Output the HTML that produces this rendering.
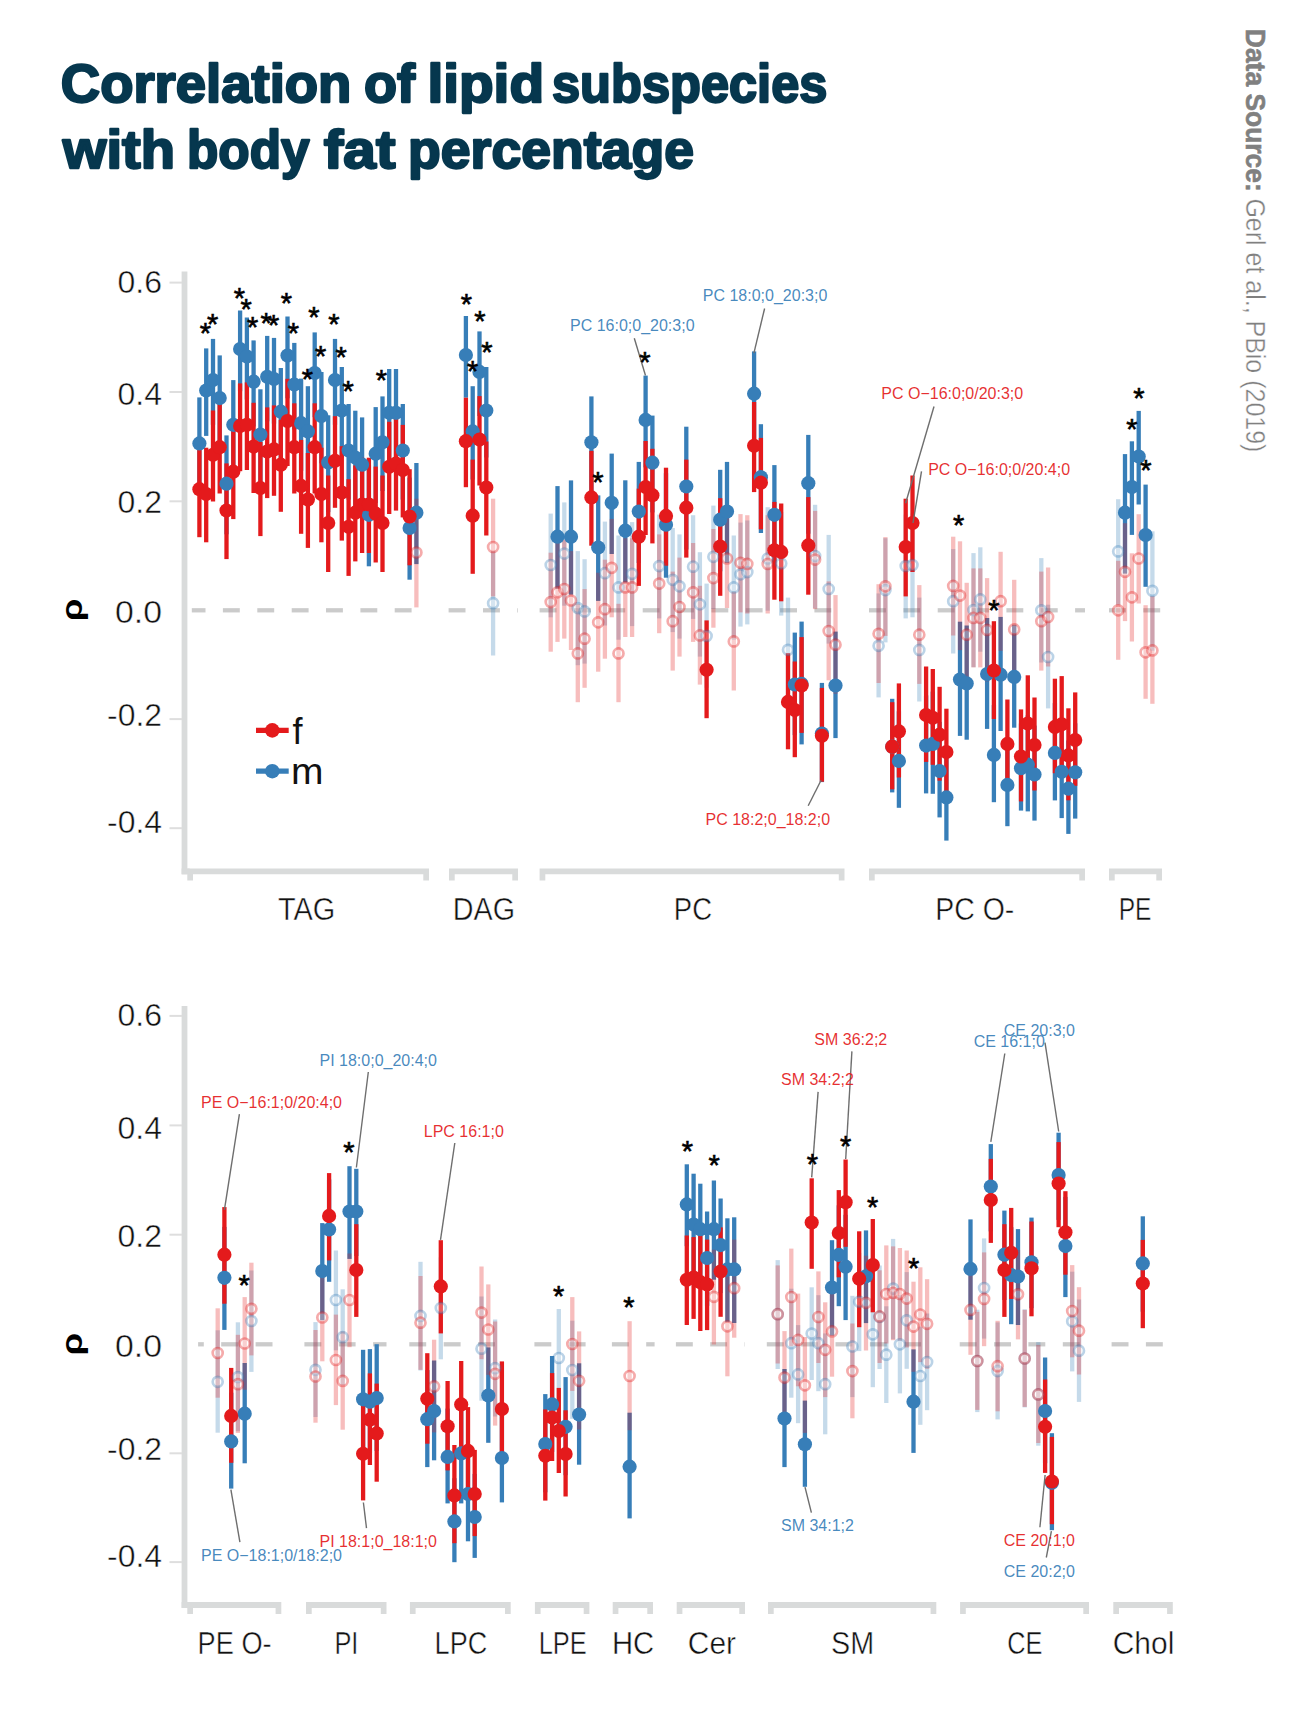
<!DOCTYPE html>
<html><head><meta charset="utf-8"><title>Correlation of lipid subspecies with body fat percentage</title>
<style>
html,body{margin:0;padding:0;background:#fff;}
svg{display:block;}
text{font-family:"Liberation Sans",sans-serif;}
.tk{font-size:31.4px;fill:#111;stroke:#fff;stroke-width:0.45px;}
.gl{font-size:30.5px;fill:#111;stroke:#fff;stroke-width:0.45px;}
.an{font-size:16px;fill-opacity:0.92;}
.st{font-size:29px;fill:#000;text-anchor:middle;stroke:#000;stroke-width:0.6px;}
.title{font-size:54px;font-weight:bold;fill:#06374e;stroke:#06374e;stroke-width:2.3px;stroke-linejoin:round;}
</style></head><body>
<svg width="1290" height="1716" viewBox="0 0 1290 1716">
<rect width="1290" height="1716" fill="#fff"/>

<text x="60.80" y="101.6" class="title" textLength="290.60" lengthAdjust="spacingAndGlyphs">Correlation</text>
<text x="364.07" y="101.6" class="title" textLength="51.00" lengthAdjust="spacingAndGlyphs">of</text>
<text x="427.45" y="101.6" class="title" textLength="116.60" lengthAdjust="spacingAndGlyphs">lipid</text>
<text x="552.01" y="101.6" class="title" textLength="275.39" lengthAdjust="spacingAndGlyphs">subspecies</text>
<text x="62.79" y="167.8" class="title" textLength="112.16" lengthAdjust="spacingAndGlyphs">with</text>
<text x="187.03" y="167.8" class="title" textLength="122.57" lengthAdjust="spacingAndGlyphs">body</text>
<text x="323.83" y="167.8" class="title" textLength="71.59" lengthAdjust="spacingAndGlyphs">fat</text>
<text x="408.00" y="167.8" class="title" textLength="285.99" lengthAdjust="spacingAndGlyphs">percentage</text>
<g transform="translate(1246,0) rotate(90)"><text x="28.8" y="0" font-size="28px" fill="#808080" font-weight="bold" stroke="#808080" stroke-width="0.6" textLength="163" lengthAdjust="spacingAndGlyphs">Data Source:</text><text x="198.4" y="0" font-size="28px" fill="#808080" stroke="#fff" stroke-width="0.4" textLength="254" lengthAdjust="spacingAndGlyphs">Gerl et al., PBio (2019)</text></g>
<text transform="translate(81.5,610) rotate(-90) scale(1.26,1.04)" text-anchor="middle" font-size="29px" font-weight="bold" fill="#000">ρ</text>
<text transform="translate(81.5,1344.3) rotate(-90) scale(1.26,1.04)" text-anchor="middle" font-size="29px" font-weight="bold" fill="#000">ρ</text>
<g stroke="#cbcbcb" stroke-width="4.3">
<line x1="191.8" x2="205.5" y1="610.3" y2="610.3"/>
<line x1="222.9" x2="239.8" y1="610.3" y2="610.3"/>
<line x1="257.3" x2="274.2" y1="610.3" y2="610.3"/>
<line x1="291.7" x2="308.6" y1="610.3" y2="610.3"/>
<line x1="326.0" x2="342.9" y1="610.3" y2="610.3"/>
<line x1="360.4" x2="377.3" y1="610.3" y2="610.3"/>
<line x1="394.7" x2="411.6" y1="610.3" y2="610.3"/>
<line x1="448.6" x2="465.5" y1="610.3" y2="610.3"/>
<line x1="483.0" x2="499.9" y1="610.3" y2="610.3"/>
<line x1="517.3" x2="518.0" y1="610.3" y2="610.3"/>
<line x1="539.6" x2="556.5" y1="610.3" y2="610.3"/>
<line x1="574.0" x2="590.9" y1="610.3" y2="610.3"/>
<line x1="608.3" x2="625.2" y1="610.3" y2="610.3"/>
<line x1="642.7" x2="659.6" y1="610.3" y2="610.3"/>
<line x1="677.0" x2="693.9" y1="610.3" y2="610.3"/>
<line x1="711.4" x2="728.3" y1="610.3" y2="610.3"/>
<line x1="745.7" x2="762.6" y1="610.3" y2="610.3"/>
<line x1="780.1" x2="797.0" y1="610.3" y2="610.3"/>
<line x1="814.4" x2="831.3" y1="610.3" y2="610.3"/>
<line x1="869.0" x2="885.9" y1="610.3" y2="610.3"/>
<line x1="903.4" x2="920.2" y1="610.3" y2="610.3"/>
<line x1="937.7" x2="954.6" y1="610.3" y2="610.3"/>
<line x1="972.1" x2="989.0" y1="610.3" y2="610.3"/>
<line x1="1006.4" x2="1023.3" y1="610.3" y2="610.3"/>
<line x1="1040.8" x2="1057.7" y1="610.3" y2="610.3"/>
<line x1="1075.1" x2="1085.0" y1="610.3" y2="610.3"/>
<line x1="1109.0" x2="1125.9" y1="610.3" y2="610.3"/>
<line x1="1143.3" x2="1160.2" y1="610.3" y2="610.3"/>
</g>
<g stroke="#cbcbcb" stroke-width="4.3">
<line x1="198.1" x2="203.8" y1="1344.3" y2="1344.3"/>
<line x1="221.2" x2="238.2" y1="1344.3" y2="1344.3"/>
<line x1="255.6" x2="272.5" y1="1344.3" y2="1344.3"/>
<line x1="304.4" x2="321.3" y1="1344.3" y2="1344.3"/>
<line x1="338.8" x2="355.6" y1="1344.3" y2="1344.3"/>
<line x1="373.1" x2="386.5" y1="1344.3" y2="1344.3"/>
<line x1="409.3" x2="426.2" y1="1344.3" y2="1344.3"/>
<line x1="443.7" x2="460.6" y1="1344.3" y2="1344.3"/>
<line x1="478.0" x2="494.9" y1="1344.3" y2="1344.3"/>
<line x1="534.4" x2="551.3" y1="1344.3" y2="1344.3"/>
<line x1="568.8" x2="585.6" y1="1344.3" y2="1344.3"/>
<line x1="611.9" x2="628.8" y1="1344.3" y2="1344.3"/>
<line x1="646.2" x2="654.6" y1="1344.3" y2="1344.3"/>
<line x1="675.9" x2="692.8" y1="1344.3" y2="1344.3"/>
<line x1="710.2" x2="727.1" y1="1344.3" y2="1344.3"/>
<line x1="744.6" x2="745.0" y1="1344.3" y2="1344.3"/>
<line x1="766.8" x2="783.7" y1="1344.3" y2="1344.3"/>
<line x1="801.1" x2="818.0" y1="1344.3" y2="1344.3"/>
<line x1="835.5" x2="852.4" y1="1344.3" y2="1344.3"/>
<line x1="869.9" x2="886.8" y1="1344.3" y2="1344.3"/>
<line x1="904.2" x2="921.1" y1="1344.3" y2="1344.3"/>
<line x1="959.7" x2="976.6" y1="1344.3" y2="1344.3"/>
<line x1="994.1" x2="1011.0" y1="1344.3" y2="1344.3"/>
<line x1="1028.4" x2="1045.3" y1="1344.3" y2="1344.3"/>
<line x1="1062.8" x2="1079.7" y1="1344.3" y2="1344.3"/>
<line x1="1111.6" x2="1128.5" y1="1344.3" y2="1344.3"/>
<line x1="1145.9" x2="1162.8" y1="1344.3" y2="1344.3"/>
</g>
<rect x="181.6" y="271.5" width="5.8" height="602.8" fill="#d9dbdb"/>
<rect x="169.5" y="281.6" width="12.5" height="2" fill="#dedede"/>
<text x="117.5" y="292.5" class="tk" textLength="44.5" lengthAdjust="spacingAndGlyphs">0.6</text>
<rect x="169.5" y="391.0" width="12.5" height="2" fill="#dedede"/>
<text x="117.5" y="404.5" class="tk" textLength="44.5" lengthAdjust="spacingAndGlyphs">0.4</text>
<rect x="169.5" y="500.3" width="12.5" height="2" fill="#dedede"/>
<text x="117.5" y="513.1" class="tk" textLength="44.5" lengthAdjust="spacingAndGlyphs">0.2</text>
<text x="115.0" y="622.7" class="tk" textLength="47.0" lengthAdjust="spacingAndGlyphs">0.0</text>
<rect x="169.5" y="718.1" width="12.5" height="2" fill="#dedede"/>
<text x="107.0" y="725.6" class="tk" textLength="55.0" lengthAdjust="spacingAndGlyphs">-0.2</text>
<rect x="169.5" y="827.2" width="12.5" height="2" fill="#dedede"/>
<text x="107.0" y="832.9" class="tk" textLength="55.0" lengthAdjust="spacingAndGlyphs">-0.4</text>
<path d="M187.3 880.5 V868.5 H429 V880.5 H423.3 V874.3 H193.0 V880.5 Z" fill="#d9dbdb"/>
<text x="278.0" y="919.6" class="gl" textLength="57.3" lengthAdjust="spacingAndGlyphs">TAG</text>
<path d="M449 880.5 V868.5 H518 V880.5 H512.3 V874.3 H454.7 V880.5 Z" fill="#d9dbdb"/>
<text x="452.8" y="919.6" class="gl" textLength="62.2" lengthAdjust="spacingAndGlyphs">DAG</text>
<path d="M539.6 880.5 V868.5 H844.5 V880.5 H838.8 V874.3 H545.3000000000001 V880.5 Z" fill="#d9dbdb"/>
<text x="673.8" y="919.6" class="gl" textLength="38.2" lengthAdjust="spacingAndGlyphs">PC</text>
<path d="M869 880.5 V868.5 H1085 V880.5 H1079.3 V874.3 H874.7 V880.5 Z" fill="#d9dbdb"/>
<text x="935.3" y="919.6" class="gl" textLength="79.0" lengthAdjust="spacingAndGlyphs">PC O-</text>
<path d="M1109 880.5 V868.5 H1162 V880.5 H1156.3 V874.3 H1114.7 V880.5 Z" fill="#d9dbdb"/>
<text x="1118.7" y="919.6" class="gl" textLength="32.8" lengthAdjust="spacingAndGlyphs">PE</text>
<rect x="181.6" y="1006" width="5.8" height="601.9" fill="#d9dbdb"/>
<rect x="169.5" y="1014.9" width="12.5" height="2" fill="#dedede"/>
<text x="117.5" y="1026.2" class="tk" textLength="44.5" lengthAdjust="spacingAndGlyphs">0.6</text>
<rect x="169.5" y="1124.4" width="12.5" height="2" fill="#dedede"/>
<text x="117.5" y="1138.5" class="tk" textLength="44.5" lengthAdjust="spacingAndGlyphs">0.4</text>
<rect x="169.5" y="1233.7" width="12.5" height="2" fill="#dedede"/>
<text x="117.5" y="1247.3" class="tk" textLength="44.5" lengthAdjust="spacingAndGlyphs">0.2</text>
<text x="115.0" y="1356.8" class="tk" textLength="47.0" lengthAdjust="spacingAndGlyphs">0.0</text>
<rect x="169.5" y="1452.3" width="12.5" height="2" fill="#dedede"/>
<text x="107.0" y="1459.5" class="tk" textLength="55.0" lengthAdjust="spacingAndGlyphs">-0.2</text>
<rect x="169.5" y="1561.1" width="12.5" height="2" fill="#dedede"/>
<text x="107.0" y="1566.8" class="tk" textLength="55.0" lengthAdjust="spacingAndGlyphs">-0.4</text>
<path d="M187.3 1614.1 V1602.1 H281.3 V1614.1 H275.6 V1607.8999999999999 H193.0 V1614.1 Z" fill="#d9dbdb"/>
<text x="197.6" y="1654" class="gl" textLength="74.0" lengthAdjust="spacingAndGlyphs">PE O-</text>
<path d="M306 1614.1 V1602.1 H386.5 V1614.1 H380.8 V1607.8999999999999 H311.7 V1614.1 Z" fill="#d9dbdb"/>
<text x="334.4" y="1654" class="gl" textLength="24.0" lengthAdjust="spacingAndGlyphs">PI</text>
<path d="M409.9 1614.1 V1602.1 H510.7 V1614.1 H505.0 V1607.8999999999999 H415.59999999999997 V1614.1 Z" fill="#d9dbdb"/>
<text x="434.6" y="1654" class="gl" textLength="52.6" lengthAdjust="spacingAndGlyphs">LPC</text>
<path d="M534.9 1614.1 V1602.1 H589.4 V1614.1 H583.6999999999999 V1607.8999999999999 H540.6 V1614.1 Z" fill="#d9dbdb"/>
<text x="538.7" y="1654" class="gl" textLength="48.1" lengthAdjust="spacingAndGlyphs">LPE</text>
<path d="M612.7 1614.1 V1602.1 H653 V1614.1 H647.3 V1607.8999999999999 H618.4000000000001 V1614.1 Z" fill="#d9dbdb"/>
<text x="612.0" y="1654" class="gl" textLength="42.2" lengthAdjust="spacingAndGlyphs">HC</text>
<path d="M676.7 1614.1 V1602.1 H745 V1614.1 H739.3 V1607.8999999999999 H682.4000000000001 V1614.1 Z" fill="#d9dbdb"/>
<text x="687.8" y="1654" class="gl" textLength="48.2" lengthAdjust="spacingAndGlyphs">Cer</text>
<path d="M768 1614.1 V1602.1 H936.3 V1614.1 H930.5999999999999 V1607.8999999999999 H773.7 V1614.1 Z" fill="#d9dbdb"/>
<text x="831.0" y="1654" class="gl" textLength="43.1" lengthAdjust="spacingAndGlyphs">SM</text>
<path d="M960.1 1614.1 V1602.1 H1089 V1614.1 H1083.3 V1607.8999999999999 H965.8000000000001 V1614.1 Z" fill="#d9dbdb"/>
<text x="1007.2" y="1654" class="gl" textLength="35.2" lengthAdjust="spacingAndGlyphs">CE</text>
<path d="M1113.3 1614.1 V1602.1 H1172.8 V1614.1 H1167.1 V1607.8999999999999 H1119.0 V1614.1 Z" fill="#d9dbdb"/>
<text x="1112.7" y="1654" class="gl" textLength="61.6" lengthAdjust="spacingAndGlyphs">Chol</text>
<rect x="181.6" y="868.5" width="8" height="5.8" fill="#d9dbdb"/>
<rect x="181.6" y="1602.1" width="8" height="5.8" fill="#d9dbdb"/>
<g stroke-width="4.3" fill="none">
<line x1="199.4" x2="199.4" y1="397.4" y2="492.1" stroke="#377eb8"/>
<line x1="206.2" x2="206.2" y1="348.4" y2="435.9" stroke="#377eb8"/>
<line x1="213.0" x2="213.0" y1="338.9" y2="424.8" stroke="#377eb8"/>
<line x1="219.7" x2="219.7" y1="355.4" y2="444.1" stroke="#377eb8"/>
<line x1="226.5" x2="226.5" y1="435.4" y2="534.3" stroke="#377eb8"/>
<line x1="233.3" x2="233.3" y1="380.1" y2="472.6" stroke="#377eb8"/>
<line x1="240.1" x2="240.1" y1="310.5" y2="391.2" stroke="#377eb8"/>
<line x1="246.9" x2="246.9" y1="317.5" y2="399.5" stroke="#377eb8"/>
<line x1="253.6" x2="253.6" y1="340.4" y2="426.6" stroke="#377eb8"/>
<line x1="260.4" x2="260.4" y1="389.3" y2="482.9" stroke="#377eb8"/>
<line x1="267.2" x2="267.2" y1="335.9" y2="421.3" stroke="#377eb8"/>
<line x1="274.0" x2="274.0" y1="337.9" y2="423.6" stroke="#377eb8"/>
<line x1="280.8" x2="280.8" y1="368.0" y2="458.7" stroke="#377eb8"/>
<line x1="287.5" x2="287.5" y1="316.5" y2="398.3" stroke="#377eb8"/>
<line x1="294.3" x2="294.3" y1="342.9" y2="429.5" stroke="#377eb8"/>
<line x1="301.1" x2="301.1" y1="378.6" y2="470.8" stroke="#377eb8"/>
<line x1="307.9" x2="307.9" y1="386.2" y2="479.5" stroke="#377eb8"/>
<line x1="314.7" x2="314.7" y1="332.4" y2="417.2" stroke="#377eb8"/>
<line x1="321.4" x2="321.4" y1="372.0" y2="463.3" stroke="#377eb8"/>
<line x1="328.2" x2="328.2" y1="415.3" y2="512.1" stroke="#377eb8"/>
<line x1="335.0" x2="335.0" y1="338.9" y2="424.8" stroke="#377eb8"/>
<line x1="341.8" x2="341.8" y1="367.0" y2="457.5" stroke="#377eb8"/>
<line x1="348.6" x2="348.6" y1="404.0" y2="499.6" stroke="#377eb8"/>
<line x1="355.3" x2="355.3" y1="410.7" y2="507.0" stroke="#377eb8"/>
<line x1="362.1" x2="362.1" y1="417.4" y2="514.4" stroke="#377eb8"/>
<line x1="368.9" x2="368.9" y1="465.1" y2="566.3" stroke="#377eb8"/>
<line x1="375.7" x2="375.7" y1="407.1" y2="503.0" stroke="#377eb8"/>
<line x1="382.5" x2="382.5" y1="396.4" y2="491.0" stroke="#377eb8"/>
<line x1="389.2" x2="389.2" y1="369.0" y2="459.8" stroke="#377eb8"/>
<line x1="396.0" x2="396.0" y1="369.0" y2="459.8" stroke="#377eb8"/>
<line x1="402.8" x2="402.8" y1="404.0" y2="499.6" stroke="#377eb8"/>
<line x1="409.6" x2="409.6" y1="477.6" y2="579.7" stroke="#377eb8"/>
<line x1="416.4" x2="416.4" y1="463.0" y2="564.1" stroke="#377eb8"/>
<line x1="465.9" x2="465.9" y1="316.0" y2="397.7" stroke="#377eb8"/>
<line x1="472.7" x2="472.7" y1="386.2" y2="479.5" stroke="#377eb8"/>
<line x1="479.5" x2="479.5" y1="331.4" y2="416.0" stroke="#377eb8"/>
<line x1="486.3" x2="486.3" y1="367.0" y2="457.5" stroke="#377eb8"/>
<line x1="493.1" x2="493.1" y1="551.1" y2="655.5" stroke="#377eb8" opacity="0.29"/>
<line x1="550.7" x2="550.7" y1="513.6" y2="617.3" stroke="#377eb8" opacity="0.29"/>
<line x1="557.5" x2="557.5" y1="486.1" y2="588.6" stroke="#377eb8"/>
<line x1="564.3" x2="564.3" y1="502.4" y2="605.7" stroke="#377eb8" opacity="0.29"/>
<line x1="571.0" x2="571.0" y1="480.4" y2="594.6" stroke="#377eb8"/>
<line x1="577.8" x2="577.8" y1="551.1" y2="665.2" stroke="#377eb8" opacity="0.29"/>
<line x1="584.6" x2="584.6" y1="559.2" y2="663.6" stroke="#377eb8" opacity="0.29"/>
<line x1="591.4" x2="591.4" y1="396.4" y2="491.0" stroke="#377eb8"/>
<line x1="598.2" x2="598.2" y1="495.4" y2="600.9" stroke="#377eb8"/>
<line x1="604.9" x2="604.9" y1="521.6" y2="625.5" stroke="#377eb8" opacity="0.29"/>
<line x1="611.7" x2="611.7" y1="453.6" y2="554.0" stroke="#377eb8"/>
<line x1="618.5" x2="618.5" y1="535.5" y2="639.7" stroke="#377eb8" opacity="0.29"/>
<line x1="625.3" x2="625.3" y1="480.3" y2="582.5" stroke="#377eb8"/>
<line x1="632.1" x2="632.1" y1="522.1" y2="626.1" stroke="#377eb8" opacity="0.29"/>
<line x1="638.8" x2="638.8" y1="461.9" y2="563.0" stroke="#377eb8"/>
<line x1="645.6" x2="645.6" y1="375.6" y2="467.4" stroke="#377eb8"/>
<line x1="652.4" x2="652.4" y1="415.6" y2="512.4" stroke="#377eb8"/>
<line x1="659.2" x2="659.2" y1="514.6" y2="618.4" stroke="#377eb8" opacity="0.29"/>
<line x1="666.0" x2="666.0" y1="473.2" y2="577.7" stroke="#377eb8"/>
<line x1="672.7" x2="672.7" y1="528.0" y2="632.1" stroke="#377eb8" opacity="0.29"/>
<line x1="679.5" x2="679.5" y1="534.4" y2="638.6" stroke="#377eb8" opacity="0.29"/>
<line x1="686.3" x2="686.3" y1="426.7" y2="549.5" stroke="#377eb8"/>
<line x1="693.1" x2="693.1" y1="515.2" y2="618.9" stroke="#377eb8" opacity="0.29"/>
<line x1="699.9" x2="699.9" y1="552.2" y2="656.6" stroke="#377eb8" opacity="0.29"/>
<line x1="706.6" x2="706.6" y1="583.6" y2="687.8" stroke="#377eb8" opacity="0.29"/>
<line x1="713.4" x2="713.4" y1="505.6" y2="609.0" stroke="#377eb8" opacity="0.29"/>
<line x1="720.2" x2="720.2" y1="469.8" y2="571.3" stroke="#377eb8"/>
<line x1="727.0" x2="727.0" y1="461.9" y2="563.0" stroke="#377eb8"/>
<line x1="733.8" x2="733.8" y1="535.5" y2="639.7" stroke="#377eb8" opacity="0.29"/>
<line x1="740.5" x2="740.5" y1="522.6" y2="626.6" stroke="#377eb8" opacity="0.29"/>
<line x1="747.3" x2="747.3" y1="520.5" y2="624.4" stroke="#377eb8" opacity="0.29"/>
<line x1="754.1" x2="754.1" y1="351.4" y2="439.5" stroke="#377eb8"/>
<line x1="760.9" x2="760.9" y1="424.2" y2="533.0" stroke="#377eb8"/>
<line x1="767.7" x2="767.7" y1="507.2" y2="610.7" stroke="#377eb8" opacity="0.29"/>
<line x1="774.4" x2="774.4" y1="465.1" y2="566.3" stroke="#377eb8"/>
<line x1="781.2" x2="781.2" y1="512.0" y2="615.6" stroke="#377eb8" opacity="0.29"/>
<line x1="788.0" x2="788.0" y1="597.6" y2="701.4" stroke="#377eb8" opacity="0.29"/>
<line x1="794.8" x2="794.8" y1="632.6" y2="735.1" stroke="#377eb8"/>
<line x1="801.6" x2="801.6" y1="621.6" y2="744.4" stroke="#377eb8"/>
<line x1="808.3" x2="808.3" y1="434.9" y2="533.7" stroke="#377eb8"/>
<line x1="815.1" x2="815.1" y1="504.8" y2="608.2" stroke="#377eb8" opacity="0.29"/>
<line x1="821.9" x2="821.9" y1="682.9" y2="782.1" stroke="#377eb8"/>
<line x1="828.7" x2="828.7" y1="534.9" y2="643.6" stroke="#377eb8" opacity="0.29"/>
<line x1="835.5" x2="835.5" y1="631.6" y2="738.1" stroke="#377eb8"/>
<line x1="878.6" x2="878.6" y1="593.4" y2="697.4" stroke="#377eb8" opacity="0.29"/>
<line x1="885.4" x2="885.4" y1="538.2" y2="642.4" stroke="#377eb8" opacity="0.29"/>
<line x1="892.2" x2="892.2" y1="698.8" y2="792.4" stroke="#377eb8"/>
<line x1="898.9" x2="898.9" y1="711.3" y2="807.8" stroke="#377eb8"/>
<line x1="905.7" x2="905.7" y1="514.6" y2="618.4" stroke="#377eb8" opacity="0.29"/>
<line x1="912.5" x2="912.5" y1="513.6" y2="617.3" stroke="#377eb8" opacity="0.29"/>
<line x1="919.3" x2="919.3" y1="597.6" y2="701.5" stroke="#377eb8" opacity="0.29"/>
<line x1="926.1" x2="926.1" y1="695.4" y2="793.4" stroke="#377eb8"/>
<line x1="932.8" x2="932.8" y1="691.6" y2="793.8" stroke="#377eb8"/>
<line x1="939.6" x2="939.6" y1="721.9" y2="817.4" stroke="#377eb8"/>
<line x1="946.4" x2="946.4" y1="751.3" y2="840.6" stroke="#377eb8"/>
<line x1="953.2" x2="953.2" y1="549.1" y2="653.5" stroke="#377eb8" opacity="0.29"/>
<line x1="960.0" x2="960.0" y1="621.7" y2="735.9" stroke="#377eb8"/>
<line x1="966.7" x2="966.7" y1="625.5" y2="739.7" stroke="#377eb8"/>
<line x1="973.5" x2="973.5" y1="553.1" y2="667.2" stroke="#377eb8" opacity="0.29"/>
<line x1="980.3" x2="980.3" y1="547.3" y2="651.7" stroke="#377eb8" opacity="0.29"/>
<line x1="987.1" x2="987.1" y1="618.0" y2="728.9" stroke="#377eb8"/>
<line x1="993.9" x2="993.9" y1="705.1" y2="802.2" stroke="#377eb8"/>
<line x1="1000.6" x2="1000.6" y1="616.9" y2="731.0" stroke="#377eb8"/>
<line x1="1007.4" x2="1007.4" y1="741.2" y2="826.2" stroke="#377eb8"/>
<line x1="1014.2" x2="1014.2" y1="624.8" y2="727.7" stroke="#377eb8"/>
<line x1="1021.0" x2="1021.0" y1="723.5" y2="810.6" stroke="#377eb8"/>
<line x1="1027.8" x2="1027.8" y1="715.3" y2="811.4" stroke="#377eb8"/>
<line x1="1034.5" x2="1034.5" y1="725.6" y2="820.6" stroke="#377eb8"/>
<line x1="1041.3" x2="1041.3" y1="558.1" y2="662.5" stroke="#377eb8" opacity="0.29"/>
<line x1="1048.1" x2="1048.1" y1="604.7" y2="708.4" stroke="#377eb8" opacity="0.29"/>
<line x1="1054.9" x2="1054.9" y1="703.1" y2="800.4" stroke="#377eb8"/>
<line x1="1061.7" x2="1061.7" y1="722.7" y2="818.1" stroke="#377eb8"/>
<line x1="1068.4" x2="1068.4" y1="740.5" y2="833.9" stroke="#377eb8"/>
<line x1="1075.2" x2="1075.2" y1="723.3" y2="818.6" stroke="#377eb8"/>
<line x1="1118.2" x2="1118.2" y1="499.2" y2="604.7" stroke="#377eb8" opacity="0.29"/>
<line x1="1125.0" x2="1125.0" y1="454.1" y2="573.6" stroke="#377eb8"/>
<line x1="1131.9" x2="1131.9" y1="441.3" y2="534.9" stroke="#377eb8"/>
<line x1="1138.7" x2="1138.7" y1="410.9" y2="504.5" stroke="#377eb8"/>
<line x1="1145.6" x2="1145.6" y1="484.6" y2="586.8" stroke="#377eb8"/>
<line x1="1152.4" x2="1152.4" y1="531.3" y2="650.8" stroke="#377eb8" opacity="0.29"/>
<line x1="199.4" x2="199.4" y1="443.1" y2="537.2" stroke="#e41a1c"/>
<line x1="206.2" x2="206.2" y1="447.7" y2="542.3" stroke="#e41a1c"/>
<line x1="213.0" x2="213.0" y1="410.5" y2="501.5" stroke="#e41a1c"/>
<line x1="219.7" x2="219.7" y1="403.3" y2="493.5" stroke="#e41a1c"/>
<line x1="226.5" x2="226.5" y1="463.4" y2="559.1" stroke="#e41a1c"/>
<line x1="233.3" x2="233.3" y1="426.5" y2="519.1" stroke="#e41a1c"/>
<line x1="240.1" x2="240.1" y1="383.4" y2="471.2" stroke="#e41a1c"/>
<line x1="246.9" x2="246.9" y1="382.4" y2="470.0" stroke="#e41a1c"/>
<line x1="253.6" x2="253.6" y1="402.8" y2="493.0" stroke="#e41a1c"/>
<line x1="260.4" x2="260.4" y1="442.0" y2="536.1" stroke="#e41a1c"/>
<line x1="267.2" x2="267.2" y1="407.4" y2="498.1" stroke="#e41a1c"/>
<line x1="274.0" x2="274.0" y1="405.4" y2="495.8" stroke="#e41a1c"/>
<line x1="280.8" x2="280.8" y1="419.8" y2="511.8" stroke="#e41a1c"/>
<line x1="287.5" x2="287.5" y1="378.8" y2="466.0" stroke="#e41a1c"/>
<line x1="294.3" x2="294.3" y1="403.3" y2="493.5" stroke="#e41a1c"/>
<line x1="301.1" x2="301.1" y1="439.9" y2="533.8" stroke="#e41a1c"/>
<line x1="307.9" x2="307.9" y1="453.0" y2="547.9" stroke="#e41a1c"/>
<line x1="314.7" x2="314.7" y1="403.3" y2="493.5" stroke="#e41a1c"/>
<line x1="321.4" x2="321.4" y1="447.7" y2="542.3" stroke="#e41a1c"/>
<line x1="328.2" x2="328.2" y1="475.5" y2="572.0" stroke="#e41a1c"/>
<line x1="335.0" x2="335.0" y1="416.2" y2="507.8" stroke="#e41a1c"/>
<line x1="341.8" x2="341.8" y1="446.2" y2="540.6" stroke="#e41a1c"/>
<line x1="348.6" x2="348.6" y1="479.2" y2="575.9" stroke="#e41a1c"/>
<line x1="355.3" x2="355.3" y1="465.5" y2="561.4" stroke="#e41a1c"/>
<line x1="362.1" x2="362.1" y1="457.7" y2="553.0" stroke="#e41a1c"/>
<line x1="368.9" x2="368.9" y1="457.7" y2="553.0" stroke="#e41a1c"/>
<line x1="375.7" x2="375.7" y1="466.6" y2="562.5" stroke="#e41a1c"/>
<line x1="382.5" x2="382.5" y1="475.5" y2="572.0" stroke="#e41a1c"/>
<line x1="389.2" x2="389.2" y1="421.8" y2="514.0" stroke="#e41a1c"/>
<line x1="396.0" x2="396.0" y1="418.7" y2="510.6" stroke="#e41a1c"/>
<line x1="402.8" x2="402.8" y1="424.9" y2="517.4" stroke="#e41a1c"/>
<line x1="409.6" x2="409.6" y1="469.2" y2="565.3" stroke="#e41a1c"/>
<line x1="416.4" x2="416.4" y1="498.7" y2="607.4" stroke="#e41a1c" opacity="0.29"/>
<line x1="465.9" x2="465.9" y1="397.7" y2="487.2" stroke="#e41a1c"/>
<line x1="472.7" x2="472.7" y1="459.6" y2="573.8" stroke="#e41a1c"/>
<line x1="479.5" x2="479.5" y1="396.1" y2="485.5" stroke="#e41a1c"/>
<line x1="486.3" x2="486.3" y1="441.5" y2="535.5" stroke="#e41a1c"/>
<line x1="493.1" x2="493.1" y1="498.7" y2="596.4" stroke="#e41a1c" opacity="0.29"/>
<line x1="550.7" x2="550.7" y1="552.7" y2="651.7" stroke="#e41a1c" opacity="0.29"/>
<line x1="557.5" x2="557.5" y1="543.0" y2="641.9" stroke="#e41a1c" opacity="0.29"/>
<line x1="564.3" x2="564.3" y1="539.8" y2="638.6" stroke="#e41a1c" opacity="0.29"/>
<line x1="571.0" x2="571.0" y1="551.1" y2="650.0" stroke="#e41a1c" opacity="0.29"/>
<line x1="577.8" x2="577.8" y1="603.8" y2="702.2" stroke="#e41a1c" opacity="0.29"/>
<line x1="584.6" x2="584.6" y1="589.1" y2="687.8" stroke="#e41a1c" opacity="0.29"/>
<line x1="591.4" x2="591.4" y1="450.9" y2="545.7" stroke="#e41a1c"/>
<line x1="598.2" x2="598.2" y1="572.7" y2="671.7" stroke="#e41a1c" opacity="0.29"/>
<line x1="604.9" x2="604.9" y1="559.7" y2="658.7" stroke="#e41a1c" opacity="0.29"/>
<line x1="611.7" x2="611.7" y1="518.9" y2="617.3" stroke="#e41a1c" opacity="0.29"/>
<line x1="618.5" x2="618.5" y1="603.8" y2="702.2" stroke="#e41a1c" opacity="0.29"/>
<line x1="625.3" x2="625.3" y1="538.2" y2="637.0" stroke="#e41a1c" opacity="0.29"/>
<line x1="632.1" x2="632.1" y1="538.2" y2="637.0" stroke="#e41a1c" opacity="0.29"/>
<line x1="638.8" x2="638.8" y1="488.6" y2="585.9" stroke="#e41a1c"/>
<line x1="645.6" x2="645.6" y1="441.0" y2="535.0" stroke="#e41a1c"/>
<line x1="652.4" x2="652.4" y1="448.8" y2="543.4" stroke="#e41a1c"/>
<line x1="659.2" x2="659.2" y1="534.4" y2="633.2" stroke="#e41a1c" opacity="0.29"/>
<line x1="666.0" x2="666.0" y1="467.7" y2="565.7" stroke="#e41a1c"/>
<line x1="672.7" x2="672.7" y1="571.6" y2="670.6" stroke="#e41a1c" opacity="0.29"/>
<line x1="679.5" x2="679.5" y1="557.6" y2="656.6" stroke="#e41a1c" opacity="0.29"/>
<line x1="686.3" x2="686.3" y1="459.6" y2="557.6" stroke="#e41a1c"/>
<line x1="693.1" x2="693.1" y1="543.0" y2="641.9" stroke="#e41a1c" opacity="0.29"/>
<line x1="699.9" x2="699.9" y1="585.8" y2="684.6" stroke="#e41a1c" opacity="0.29"/>
<line x1="706.6" x2="706.6" y1="620.4" y2="718.2" stroke="#e41a1c"/>
<line x1="713.4" x2="713.4" y1="529.0" y2="627.7" stroke="#e41a1c" opacity="0.29"/>
<line x1="720.2" x2="720.2" y1="498.2" y2="595.8" stroke="#e41a1c"/>
<line x1="727.0" x2="727.0" y1="509.8" y2="608.0" stroke="#e41a1c" opacity="0.29"/>
<line x1="733.8" x2="733.8" y1="591.8" y2="690.5" stroke="#e41a1c" opacity="0.29"/>
<line x1="740.5" x2="740.5" y1="514.1" y2="612.4" stroke="#e41a1c" opacity="0.29"/>
<line x1="747.3" x2="747.3" y1="515.2" y2="613.5" stroke="#e41a1c" opacity="0.29"/>
<line x1="754.1" x2="754.1" y1="402.0" y2="492.1" stroke="#e41a1c"/>
<line x1="760.9" x2="760.9" y1="437.9" y2="529.3" stroke="#e41a1c"/>
<line x1="767.7" x2="767.7" y1="515.2" y2="613.5" stroke="#e41a1c" opacity="0.29"/>
<line x1="774.4" x2="774.4" y1="501.9" y2="599.7" stroke="#e41a1c"/>
<line x1="781.2" x2="781.2" y1="503.5" y2="601.3" stroke="#e41a1c"/>
<line x1="788.0" x2="788.0" y1="653.1" y2="749.3" stroke="#e41a1c"/>
<line x1="794.8" x2="794.8" y1="661.5" y2="757.2" stroke="#e41a1c"/>
<line x1="801.6" x2="801.6" y1="637.1" y2="732.9" stroke="#e41a1c"/>
<line x1="808.3" x2="808.3" y1="497.1" y2="594.7" stroke="#e41a1c"/>
<line x1="815.1" x2="815.1" y1="510.9" y2="609.1" stroke="#e41a1c" opacity="0.29"/>
<line x1="821.9" x2="821.9" y1="687.9" y2="781.7" stroke="#e41a1c"/>
<line x1="828.7" x2="828.7" y1="581.4" y2="680.3" stroke="#e41a1c" opacity="0.29"/>
<line x1="835.5" x2="835.5" y1="595.1" y2="693.7" stroke="#e41a1c" opacity="0.29"/>
<line x1="878.6" x2="878.6" y1="584.2" y2="683.0" stroke="#e41a1c" opacity="0.29"/>
<line x1="885.4" x2="885.4" y1="537.1" y2="635.9" stroke="#e41a1c" opacity="0.29"/>
<line x1="892.2" x2="892.2" y1="702.2" y2="789.3" stroke="#e41a1c"/>
<line x1="898.9" x2="898.9" y1="683.4" y2="777.5" stroke="#e41a1c"/>
<line x1="905.7" x2="905.7" y1="498.7" y2="596.4" stroke="#e41a1c"/>
<line x1="912.5" x2="912.5" y1="475.5" y2="572.0" stroke="#e41a1c"/>
<line x1="919.3" x2="919.3" y1="585.1" y2="683.9" stroke="#e41a1c" opacity="0.29"/>
<line x1="926.1" x2="926.1" y1="666.5" y2="761.9" stroke="#e41a1c"/>
<line x1="932.8" x2="932.8" y1="669.0" y2="764.8" stroke="#e41a1c"/>
<line x1="939.6" x2="939.6" y1="686.8" y2="780.7" stroke="#e41a1c"/>
<line x1="946.4" x2="946.4" y1="708.7" y2="793.7" stroke="#e41a1c"/>
<line x1="953.2" x2="953.2" y1="536.7" y2="635.5" stroke="#e41a1c" opacity="0.29"/>
<line x1="960.0" x2="960.0" y1="541.3" y2="650.1" stroke="#e41a1c" opacity="0.29"/>
<line x1="966.7" x2="966.7" y1="582.8" y2="686.1" stroke="#e41a1c" opacity="0.29"/>
<line x1="973.5" x2="973.5" y1="568.4" y2="667.4" stroke="#e41a1c" opacity="0.29"/>
<line x1="980.3" x2="980.3" y1="568.4" y2="667.4" stroke="#e41a1c" opacity="0.29"/>
<line x1="987.1" x2="987.1" y1="578.1" y2="681.4" stroke="#e41a1c" opacity="0.29"/>
<line x1="993.9" x2="993.9" y1="621.2" y2="719.0" stroke="#e41a1c"/>
<line x1="1000.6" x2="1000.6" y1="551.8" y2="650.8" stroke="#e41a1c" opacity="0.29"/>
<line x1="1007.4" x2="1007.4" y1="699.5" y2="786.6" stroke="#e41a1c"/>
<line x1="1014.2" x2="1014.2" y1="579.8" y2="678.7" stroke="#e41a1c" opacity="0.29"/>
<line x1="1021.0" x2="1021.0" y1="709.4" y2="801.4" stroke="#e41a1c"/>
<line x1="1027.8" x2="1027.8" y1="675.3" y2="770.0" stroke="#e41a1c"/>
<line x1="1034.5" x2="1034.5" y1="697.5" y2="790.5" stroke="#e41a1c"/>
<line x1="1041.3" x2="1041.3" y1="571.6" y2="670.6" stroke="#e41a1c" opacity="0.29"/>
<line x1="1048.1" x2="1048.1" y1="567.5" y2="666.5" stroke="#e41a1c" opacity="0.29"/>
<line x1="1054.9" x2="1054.9" y1="678.7" y2="773.2" stroke="#e41a1c"/>
<line x1="1061.7" x2="1061.7" y1="676.1" y2="770.8" stroke="#e41a1c"/>
<line x1="1068.4" x2="1068.4" y1="708.3" y2="800.3" stroke="#e41a1c"/>
<line x1="1075.2" x2="1075.2" y1="692.4" y2="785.8" stroke="#e41a1c"/>
<line x1="1118.2" x2="1118.2" y1="560.8" y2="659.8" stroke="#e41a1c" opacity="0.29"/>
<line x1="1125.0" x2="1125.0" y1="523.2" y2="621.1" stroke="#e41a1c" opacity="0.29"/>
<line x1="1131.9" x2="1131.9" y1="553.3" y2="641.5" stroke="#e41a1c" opacity="0.29"/>
<line x1="1138.7" x2="1138.7" y1="514.2" y2="603.5" stroke="#e41a1c" opacity="0.29"/>
<line x1="1145.6" x2="1145.6" y1="605.2" y2="698.8" stroke="#e41a1c" opacity="0.29"/>
<line x1="1152.4" x2="1152.4" y1="596.2" y2="703.8" stroke="#e41a1c" opacity="0.29"/>
</g>
<circle cx="199.4" cy="443.4" r="7.1" fill="#377eb8"/>
<circle cx="206.2" cy="390.5" r="7.1" fill="#377eb8"/>
<circle cx="213.0" cy="380.1" r="7.1" fill="#377eb8"/>
<circle cx="219.7" cy="398.1" r="7.1" fill="#377eb8"/>
<circle cx="226.5" cy="483.7" r="7.1" fill="#377eb8"/>
<circle cx="233.3" cy="424.8" r="7.1" fill="#377eb8"/>
<circle cx="240.1" cy="349.0" r="7.1" fill="#377eb8"/>
<circle cx="246.9" cy="356.6" r="7.1" fill="#377eb8"/>
<circle cx="253.6" cy="381.7" r="7.1" fill="#377eb8"/>
<circle cx="260.4" cy="434.6" r="7.1" fill="#377eb8"/>
<circle cx="267.2" cy="376.8" r="7.1" fill="#377eb8"/>
<circle cx="274.0" cy="379.0" r="7.1" fill="#377eb8"/>
<circle cx="280.8" cy="411.7" r="7.1" fill="#377eb8"/>
<circle cx="287.5" cy="355.6" r="7.1" fill="#377eb8"/>
<circle cx="294.3" cy="384.5" r="7.1" fill="#377eb8"/>
<circle cx="301.1" cy="423.2" r="7.1" fill="#377eb8"/>
<circle cx="307.9" cy="431.4" r="7.1" fill="#377eb8"/>
<circle cx="314.7" cy="373.0" r="7.1" fill="#377eb8"/>
<circle cx="321.4" cy="416.1" r="7.1" fill="#377eb8"/>
<circle cx="328.2" cy="462.5" r="7.1" fill="#377eb8"/>
<circle cx="335.0" cy="380.1" r="7.1" fill="#377eb8"/>
<circle cx="341.8" cy="410.6" r="7.1" fill="#377eb8"/>
<circle cx="348.6" cy="450.5" r="7.1" fill="#377eb8"/>
<circle cx="355.3" cy="457.6" r="7.1" fill="#377eb8"/>
<circle cx="362.1" cy="464.7" r="7.1" fill="#377eb8"/>
<circle cx="368.9" cy="514.8" r="7.1" fill="#377eb8"/>
<circle cx="375.7" cy="453.7" r="7.1" fill="#377eb8"/>
<circle cx="382.5" cy="442.3" r="7.1" fill="#377eb8"/>
<circle cx="389.2" cy="412.8" r="7.1" fill="#377eb8"/>
<circle cx="396.0" cy="412.8" r="7.1" fill="#377eb8"/>
<circle cx="402.8" cy="450.5" r="7.1" fill="#377eb8"/>
<circle cx="409.6" cy="527.9" r="7.1" fill="#377eb8"/>
<circle cx="416.4" cy="512.7" r="7.1" fill="#377eb8"/>
<circle cx="465.9" cy="355.0" r="7.1" fill="#377eb8"/>
<circle cx="472.7" cy="431.4" r="7.1" fill="#377eb8"/>
<circle cx="479.5" cy="371.9" r="7.1" fill="#377eb8"/>
<circle cx="486.3" cy="410.6" r="7.1" fill="#377eb8"/>
<circle cx="493.1" cy="603.2" r="5.0" fill="#fff" fill-opacity="0.28" stroke="#377eb8" stroke-width="2.7" stroke-opacity="0.34"/>
<circle cx="550.7" cy="565.0" r="5.0" fill="#fff" fill-opacity="0.28" stroke="#377eb8" stroke-width="2.7" stroke-opacity="0.34"/>
<circle cx="557.5" cy="536.7" r="7.1" fill="#377eb8"/>
<circle cx="564.3" cy="553.6" r="5.0" fill="#fff" fill-opacity="0.28" stroke="#377eb8" stroke-width="2.7" stroke-opacity="0.34"/>
<circle cx="571.0" cy="536.7" r="7.1" fill="#377eb8"/>
<circle cx="577.8" cy="608.1" r="5.0" fill="#fff" fill-opacity="0.28" stroke="#377eb8" stroke-width="2.7" stroke-opacity="0.34"/>
<circle cx="584.6" cy="611.4" r="5.0" fill="#fff" fill-opacity="0.28" stroke="#377eb8" stroke-width="2.7" stroke-opacity="0.34"/>
<circle cx="591.4" cy="442.3" r="7.1" fill="#377eb8"/>
<circle cx="598.2" cy="547.6" r="7.1" fill="#377eb8"/>
<circle cx="604.9" cy="573.2" r="5.0" fill="#fff" fill-opacity="0.28" stroke="#377eb8" stroke-width="2.7" stroke-opacity="0.34"/>
<circle cx="611.7" cy="502.8" r="7.1" fill="#377eb8"/>
<circle cx="618.5" cy="587.4" r="5.0" fill="#fff" fill-opacity="0.28" stroke="#377eb8" stroke-width="2.7" stroke-opacity="0.34"/>
<circle cx="625.3" cy="530.7" r="7.1" fill="#377eb8"/>
<circle cx="632.1" cy="573.8" r="5.0" fill="#fff" fill-opacity="0.28" stroke="#377eb8" stroke-width="2.7" stroke-opacity="0.34"/>
<circle cx="638.8" cy="511.6" r="7.1" fill="#377eb8"/>
<circle cx="645.6" cy="419.9" r="7.1" fill="#377eb8"/>
<circle cx="652.4" cy="462.7" r="7.1" fill="#377eb8"/>
<circle cx="659.2" cy="566.1" r="5.0" fill="#fff" fill-opacity="0.28" stroke="#377eb8" stroke-width="2.7" stroke-opacity="0.34"/>
<circle cx="666.0" cy="524.7" r="7.1" fill="#377eb8"/>
<circle cx="672.7" cy="579.8" r="5.0" fill="#fff" fill-opacity="0.28" stroke="#377eb8" stroke-width="2.7" stroke-opacity="0.34"/>
<circle cx="679.5" cy="586.3" r="5.0" fill="#fff" fill-opacity="0.28" stroke="#377eb8" stroke-width="2.7" stroke-opacity="0.34"/>
<circle cx="686.3" cy="486.5" r="7.1" fill="#377eb8"/>
<circle cx="693.1" cy="566.7" r="5.0" fill="#fff" fill-opacity="0.28" stroke="#377eb8" stroke-width="2.7" stroke-opacity="0.34"/>
<circle cx="699.9" cy="604.3" r="5.0" fill="#fff" fill-opacity="0.28" stroke="#377eb8" stroke-width="2.7" stroke-opacity="0.34"/>
<circle cx="706.6" cy="635.9" r="5.0" fill="#fff" fill-opacity="0.28" stroke="#377eb8" stroke-width="2.7" stroke-opacity="0.34"/>
<circle cx="713.4" cy="556.8" r="5.0" fill="#fff" fill-opacity="0.28" stroke="#377eb8" stroke-width="2.7" stroke-opacity="0.34"/>
<circle cx="720.2" cy="519.7" r="7.1" fill="#377eb8"/>
<circle cx="727.0" cy="511.6" r="7.1" fill="#377eb8"/>
<circle cx="733.8" cy="587.4" r="5.0" fill="#fff" fill-opacity="0.28" stroke="#377eb8" stroke-width="2.7" stroke-opacity="0.34"/>
<circle cx="740.5" cy="574.3" r="5.0" fill="#fff" fill-opacity="0.28" stroke="#377eb8" stroke-width="2.7" stroke-opacity="0.34"/>
<circle cx="747.3" cy="572.1" r="5.0" fill="#fff" fill-opacity="0.28" stroke="#377eb8" stroke-width="2.7" stroke-opacity="0.34"/>
<circle cx="754.1" cy="393.7" r="7.1" fill="#377eb8"/>
<circle cx="760.9" cy="477.2" r="7.1" fill="#377eb8"/>
<circle cx="767.7" cy="558.5" r="5.0" fill="#fff" fill-opacity="0.28" stroke="#377eb8" stroke-width="2.7" stroke-opacity="0.34"/>
<circle cx="774.4" cy="514.8" r="7.1" fill="#377eb8"/>
<circle cx="781.2" cy="563.4" r="5.0" fill="#fff" fill-opacity="0.28" stroke="#377eb8" stroke-width="2.7" stroke-opacity="0.34"/>
<circle cx="788.0" cy="649.8" r="5.0" fill="#fff" fill-opacity="0.28" stroke="#377eb8" stroke-width="2.7" stroke-opacity="0.34"/>
<circle cx="794.8" cy="684.5" r="7.1" fill="#377eb8"/>
<circle cx="801.6" cy="683.9" r="7.1" fill="#377eb8"/>
<circle cx="808.3" cy="483.2" r="7.1" fill="#377eb8"/>
<circle cx="815.1" cy="556.0" r="5.0" fill="#fff" fill-opacity="0.28" stroke="#377eb8" stroke-width="2.7" stroke-opacity="0.34"/>
<circle cx="821.9" cy="733.6" r="7.1" fill="#377eb8"/>
<circle cx="828.7" cy="589.0" r="5.0" fill="#fff" fill-opacity="0.28" stroke="#377eb8" stroke-width="2.7" stroke-opacity="0.34"/>
<circle cx="835.5" cy="685.6" r="7.1" fill="#377eb8"/>
<circle cx="878.6" cy="645.8" r="5.0" fill="#fff" fill-opacity="0.28" stroke="#377eb8" stroke-width="2.7" stroke-opacity="0.34"/>
<circle cx="885.4" cy="590.1" r="5.0" fill="#fff" fill-opacity="0.28" stroke="#377eb8" stroke-width="2.7" stroke-opacity="0.34"/>
<circle cx="892.2" cy="746.7" r="7.1" fill="#377eb8"/>
<circle cx="898.9" cy="760.9" r="7.1" fill="#377eb8"/>
<circle cx="905.7" cy="566.1" r="5.0" fill="#fff" fill-opacity="0.28" stroke="#377eb8" stroke-width="2.7" stroke-opacity="0.34"/>
<circle cx="912.5" cy="565.0" r="5.0" fill="#fff" fill-opacity="0.28" stroke="#377eb8" stroke-width="2.7" stroke-opacity="0.34"/>
<circle cx="919.3" cy="649.9" r="5.0" fill="#fff" fill-opacity="0.28" stroke="#377eb8" stroke-width="2.7" stroke-opacity="0.34"/>
<circle cx="926.1" cy="745.6" r="7.1" fill="#377eb8"/>
<circle cx="932.8" cy="743.9" r="7.1" fill="#377eb8"/>
<circle cx="939.6" cy="771.0" r="7.1" fill="#377eb8"/>
<circle cx="946.4" cy="797.4" r="7.1" fill="#377eb8"/>
<circle cx="953.2" cy="601.2" r="5.0" fill="#fff" fill-opacity="0.28" stroke="#377eb8" stroke-width="2.7" stroke-opacity="0.34"/>
<circle cx="960.0" cy="679.6" r="7.1" fill="#377eb8"/>
<circle cx="966.7" cy="683.4" r="7.1" fill="#377eb8"/>
<circle cx="973.5" cy="610.1" r="5.0" fill="#fff" fill-opacity="0.28" stroke="#377eb8" stroke-width="2.7" stroke-opacity="0.34"/>
<circle cx="980.3" cy="599.4" r="5.0" fill="#fff" fill-opacity="0.28" stroke="#377eb8" stroke-width="2.7" stroke-opacity="0.34"/>
<circle cx="987.1" cy="674.1" r="7.1" fill="#377eb8"/>
<circle cx="993.9" cy="754.9" r="7.1" fill="#377eb8"/>
<circle cx="1000.6" cy="674.7" r="7.1" fill="#377eb8"/>
<circle cx="1007.4" cy="784.9" r="7.1" fill="#377eb8"/>
<circle cx="1014.2" cy="676.9" r="7.1" fill="#377eb8"/>
<circle cx="1021.0" cy="768.2" r="7.1" fill="#377eb8"/>
<circle cx="1027.8" cy="764.7" r="7.1" fill="#377eb8"/>
<circle cx="1034.5" cy="774.5" r="7.1" fill="#377eb8"/>
<circle cx="1041.3" cy="610.3" r="5.0" fill="#fff" fill-opacity="0.28" stroke="#377eb8" stroke-width="2.7" stroke-opacity="0.34"/>
<circle cx="1048.1" cy="657.0" r="5.0" fill="#fff" fill-opacity="0.28" stroke="#377eb8" stroke-width="2.7" stroke-opacity="0.34"/>
<circle cx="1054.9" cy="752.9" r="7.1" fill="#377eb8"/>
<circle cx="1061.7" cy="771.8" r="7.1" fill="#377eb8"/>
<circle cx="1068.4" cy="788.7" r="7.1" fill="#377eb8"/>
<circle cx="1075.2" cy="772.3" r="7.1" fill="#377eb8"/>
<circle cx="1118.2" cy="551.4" r="5.0" fill="#fff" fill-opacity="0.28" stroke="#377eb8" stroke-width="2.7" stroke-opacity="0.34"/>
<circle cx="1125.0" cy="512.7" r="7.1" fill="#377eb8"/>
<circle cx="1131.9" cy="487.1" r="7.1" fill="#377eb8"/>
<circle cx="1138.7" cy="456.5" r="7.1" fill="#377eb8"/>
<circle cx="1145.6" cy="535.0" r="7.1" fill="#377eb8"/>
<circle cx="1152.4" cy="590.8" r="5.0" fill="#fff" fill-opacity="0.28" stroke="#377eb8" stroke-width="2.7" stroke-opacity="0.34"/>
<circle cx="199.4" cy="489.2" r="7.1" fill="#e41a1c"/>
<circle cx="206.2" cy="494.1" r="7.1" fill="#e41a1c"/>
<circle cx="213.0" cy="454.8" r="7.1" fill="#e41a1c"/>
<circle cx="219.7" cy="447.2" r="7.1" fill="#e41a1c"/>
<circle cx="226.5" cy="510.5" r="7.1" fill="#e41a1c"/>
<circle cx="233.3" cy="471.7" r="7.1" fill="#e41a1c"/>
<circle cx="240.1" cy="425.9" r="7.1" fill="#e41a1c"/>
<circle cx="246.9" cy="424.8" r="7.1" fill="#e41a1c"/>
<circle cx="253.6" cy="446.6" r="7.1" fill="#e41a1c"/>
<circle cx="260.4" cy="488.1" r="7.1" fill="#e41a1c"/>
<circle cx="267.2" cy="451.6" r="7.1" fill="#e41a1c"/>
<circle cx="274.0" cy="449.4" r="7.1" fill="#e41a1c"/>
<circle cx="280.8" cy="464.7" r="7.1" fill="#e41a1c"/>
<circle cx="287.5" cy="421.0" r="7.1" fill="#e41a1c"/>
<circle cx="294.3" cy="447.2" r="7.1" fill="#e41a1c"/>
<circle cx="301.1" cy="485.9" r="7.1" fill="#e41a1c"/>
<circle cx="307.9" cy="499.6" r="7.1" fill="#e41a1c"/>
<circle cx="314.7" cy="447.2" r="7.1" fill="#e41a1c"/>
<circle cx="321.4" cy="494.1" r="7.1" fill="#e41a1c"/>
<circle cx="328.2" cy="523.0" r="7.1" fill="#e41a1c"/>
<circle cx="335.0" cy="460.8" r="7.1" fill="#e41a1c"/>
<circle cx="341.8" cy="492.5" r="7.1" fill="#e41a1c"/>
<circle cx="348.6" cy="526.8" r="7.1" fill="#e41a1c"/>
<circle cx="355.3" cy="512.7" r="7.1" fill="#e41a1c"/>
<circle cx="362.1" cy="504.5" r="7.1" fill="#e41a1c"/>
<circle cx="368.9" cy="504.5" r="7.1" fill="#e41a1c"/>
<circle cx="375.7" cy="513.7" r="7.1" fill="#e41a1c"/>
<circle cx="382.5" cy="523.0" r="7.1" fill="#e41a1c"/>
<circle cx="389.2" cy="466.8" r="7.1" fill="#e41a1c"/>
<circle cx="396.0" cy="463.6" r="7.1" fill="#e41a1c"/>
<circle cx="402.8" cy="470.1" r="7.1" fill="#e41a1c"/>
<circle cx="409.6" cy="516.5" r="7.1" fill="#e41a1c"/>
<circle cx="416.4" cy="552.5" r="5.0" fill="#fff" fill-opacity="0.28" stroke="#e41a1c" stroke-width="2.7" stroke-opacity="0.37"/>
<circle cx="465.9" cy="441.2" r="7.1" fill="#e41a1c"/>
<circle cx="472.7" cy="515.7" r="7.1" fill="#e41a1c"/>
<circle cx="479.5" cy="439.6" r="7.1" fill="#e41a1c"/>
<circle cx="486.3" cy="487.6" r="7.1" fill="#e41a1c"/>
<circle cx="493.1" cy="547.0" r="5.0" fill="#fff" fill-opacity="0.28" stroke="#e41a1c" stroke-width="2.7" stroke-opacity="0.37"/>
<circle cx="550.7" cy="602.1" r="5.0" fill="#fff" fill-opacity="0.28" stroke="#e41a1c" stroke-width="2.7" stroke-opacity="0.37"/>
<circle cx="557.5" cy="592.3" r="5.0" fill="#fff" fill-opacity="0.28" stroke="#e41a1c" stroke-width="2.7" stroke-opacity="0.37"/>
<circle cx="564.3" cy="589.0" r="5.0" fill="#fff" fill-opacity="0.28" stroke="#e41a1c" stroke-width="2.7" stroke-opacity="0.37"/>
<circle cx="571.0" cy="600.5" r="5.0" fill="#fff" fill-opacity="0.28" stroke="#e41a1c" stroke-width="2.7" stroke-opacity="0.37"/>
<circle cx="577.8" cy="653.4" r="5.0" fill="#fff" fill-opacity="0.28" stroke="#e41a1c" stroke-width="2.7" stroke-opacity="0.37"/>
<circle cx="584.6" cy="638.7" r="5.0" fill="#fff" fill-opacity="0.28" stroke="#e41a1c" stroke-width="2.7" stroke-opacity="0.37"/>
<circle cx="591.4" cy="497.4" r="7.1" fill="#e41a1c"/>
<circle cx="598.2" cy="622.3" r="5.0" fill="#fff" fill-opacity="0.28" stroke="#e41a1c" stroke-width="2.7" stroke-opacity="0.37"/>
<circle cx="604.9" cy="609.2" r="5.0" fill="#fff" fill-opacity="0.28" stroke="#e41a1c" stroke-width="2.7" stroke-opacity="0.37"/>
<circle cx="611.7" cy="567.8" r="5.0" fill="#fff" fill-opacity="0.28" stroke="#e41a1c" stroke-width="2.7" stroke-opacity="0.37"/>
<circle cx="618.5" cy="653.4" r="5.0" fill="#fff" fill-opacity="0.28" stroke="#e41a1c" stroke-width="2.7" stroke-opacity="0.37"/>
<circle cx="625.3" cy="587.4" r="5.0" fill="#fff" fill-opacity="0.28" stroke="#e41a1c" stroke-width="2.7" stroke-opacity="0.37"/>
<circle cx="632.1" cy="587.4" r="5.0" fill="#fff" fill-opacity="0.28" stroke="#e41a1c" stroke-width="2.7" stroke-opacity="0.37"/>
<circle cx="638.8" cy="536.7" r="7.1" fill="#e41a1c"/>
<circle cx="645.6" cy="487.0" r="7.1" fill="#e41a1c"/>
<circle cx="652.4" cy="495.2" r="7.1" fill="#e41a1c"/>
<circle cx="659.2" cy="583.6" r="5.0" fill="#fff" fill-opacity="0.28" stroke="#e41a1c" stroke-width="2.7" stroke-opacity="0.37"/>
<circle cx="666.0" cy="515.9" r="7.1" fill="#e41a1c"/>
<circle cx="672.7" cy="621.2" r="5.0" fill="#fff" fill-opacity="0.28" stroke="#e41a1c" stroke-width="2.7" stroke-opacity="0.37"/>
<circle cx="679.5" cy="607.0" r="5.0" fill="#fff" fill-opacity="0.28" stroke="#e41a1c" stroke-width="2.7" stroke-opacity="0.37"/>
<circle cx="686.3" cy="507.7" r="7.1" fill="#e41a1c"/>
<circle cx="693.1" cy="592.3" r="5.0" fill="#fff" fill-opacity="0.28" stroke="#e41a1c" stroke-width="2.7" stroke-opacity="0.37"/>
<circle cx="699.9" cy="635.4" r="5.0" fill="#fff" fill-opacity="0.28" stroke="#e41a1c" stroke-width="2.7" stroke-opacity="0.37"/>
<circle cx="706.6" cy="669.8" r="7.1" fill="#e41a1c"/>
<circle cx="713.4" cy="578.1" r="5.0" fill="#fff" fill-opacity="0.28" stroke="#e41a1c" stroke-width="2.7" stroke-opacity="0.37"/>
<circle cx="720.2" cy="546.5" r="7.1" fill="#e41a1c"/>
<circle cx="727.0" cy="558.5" r="5.0" fill="#fff" fill-opacity="0.28" stroke="#e41a1c" stroke-width="2.7" stroke-opacity="0.37"/>
<circle cx="733.8" cy="641.4" r="5.0" fill="#fff" fill-opacity="0.28" stroke="#e41a1c" stroke-width="2.7" stroke-opacity="0.37"/>
<circle cx="740.5" cy="562.8" r="5.0" fill="#fff" fill-opacity="0.28" stroke="#e41a1c" stroke-width="2.7" stroke-opacity="0.37"/>
<circle cx="747.3" cy="563.9" r="5.0" fill="#fff" fill-opacity="0.28" stroke="#e41a1c" stroke-width="2.7" stroke-opacity="0.37"/>
<circle cx="754.1" cy="445.8" r="7.1" fill="#e41a1c"/>
<circle cx="760.9" cy="482.7" r="7.1" fill="#e41a1c"/>
<circle cx="767.7" cy="563.9" r="5.0" fill="#fff" fill-opacity="0.28" stroke="#e41a1c" stroke-width="2.7" stroke-opacity="0.37"/>
<circle cx="774.4" cy="550.3" r="7.1" fill="#e41a1c"/>
<circle cx="781.2" cy="551.9" r="7.1" fill="#e41a1c"/>
<circle cx="788.0" cy="701.9" r="7.1" fill="#e41a1c"/>
<circle cx="794.8" cy="710.1" r="7.1" fill="#e41a1c"/>
<circle cx="801.6" cy="685.6" r="7.1" fill="#e41a1c"/>
<circle cx="808.3" cy="545.4" r="7.1" fill="#e41a1c"/>
<circle cx="815.1" cy="559.6" r="5.0" fill="#fff" fill-opacity="0.28" stroke="#e41a1c" stroke-width="2.7" stroke-opacity="0.37"/>
<circle cx="821.9" cy="735.8" r="7.1" fill="#e41a1c"/>
<circle cx="828.7" cy="631.0" r="5.0" fill="#fff" fill-opacity="0.28" stroke="#e41a1c" stroke-width="2.7" stroke-opacity="0.37"/>
<circle cx="835.5" cy="644.7" r="5.0" fill="#fff" fill-opacity="0.28" stroke="#e41a1c" stroke-width="2.7" stroke-opacity="0.37"/>
<circle cx="878.6" cy="633.8" r="5.0" fill="#fff" fill-opacity="0.28" stroke="#e41a1c" stroke-width="2.7" stroke-opacity="0.37"/>
<circle cx="885.4" cy="586.3" r="5.0" fill="#fff" fill-opacity="0.28" stroke="#e41a1c" stroke-width="2.7" stroke-opacity="0.37"/>
<circle cx="892.2" cy="746.7" r="7.1" fill="#e41a1c"/>
<circle cx="898.9" cy="731.4" r="7.1" fill="#e41a1c"/>
<circle cx="905.7" cy="547.0" r="7.1" fill="#e41a1c"/>
<circle cx="912.5" cy="523.0" r="7.1" fill="#e41a1c"/>
<circle cx="919.3" cy="634.7" r="5.0" fill="#fff" fill-opacity="0.28" stroke="#e41a1c" stroke-width="2.7" stroke-opacity="0.37"/>
<circle cx="926.1" cy="715.0" r="7.1" fill="#e41a1c"/>
<circle cx="932.8" cy="717.8" r="7.1" fill="#e41a1c"/>
<circle cx="939.6" cy="734.7" r="7.1" fill="#e41a1c"/>
<circle cx="946.4" cy="752.1" r="7.1" fill="#e41a1c"/>
<circle cx="953.2" cy="585.9" r="5.0" fill="#fff" fill-opacity="0.28" stroke="#e41a1c" stroke-width="2.7" stroke-opacity="0.37"/>
<circle cx="960.0" cy="595.6" r="5.0" fill="#fff" fill-opacity="0.28" stroke="#e41a1c" stroke-width="2.7" stroke-opacity="0.37"/>
<circle cx="966.7" cy="634.7" r="5.0" fill="#fff" fill-opacity="0.28" stroke="#e41a1c" stroke-width="2.7" stroke-opacity="0.37"/>
<circle cx="973.5" cy="617.9" r="5.0" fill="#fff" fill-opacity="0.28" stroke="#e41a1c" stroke-width="2.7" stroke-opacity="0.37"/>
<circle cx="980.3" cy="617.9" r="5.0" fill="#fff" fill-opacity="0.28" stroke="#e41a1c" stroke-width="2.7" stroke-opacity="0.37"/>
<circle cx="987.1" cy="629.9" r="5.0" fill="#fff" fill-opacity="0.28" stroke="#e41a1c" stroke-width="2.7" stroke-opacity="0.37"/>
<circle cx="993.9" cy="670.6" r="7.1" fill="#e41a1c"/>
<circle cx="1000.6" cy="601.2" r="5.0" fill="#fff" fill-opacity="0.28" stroke="#e41a1c" stroke-width="2.7" stroke-opacity="0.37"/>
<circle cx="1007.4" cy="743.9" r="7.1" fill="#e41a1c"/>
<circle cx="1014.2" cy="629.4" r="5.0" fill="#fff" fill-opacity="0.28" stroke="#e41a1c" stroke-width="2.7" stroke-opacity="0.37"/>
<circle cx="1021.0" cy="756.5" r="7.1" fill="#e41a1c"/>
<circle cx="1027.8" cy="723.5" r="7.1" fill="#e41a1c"/>
<circle cx="1034.5" cy="745.0" r="7.1" fill="#e41a1c"/>
<circle cx="1041.3" cy="621.2" r="5.0" fill="#fff" fill-opacity="0.28" stroke="#e41a1c" stroke-width="2.7" stroke-opacity="0.37"/>
<circle cx="1048.1" cy="617.0" r="5.0" fill="#fff" fill-opacity="0.28" stroke="#e41a1c" stroke-width="2.7" stroke-opacity="0.37"/>
<circle cx="1054.9" cy="726.9" r="7.1" fill="#e41a1c"/>
<circle cx="1061.7" cy="724.3" r="7.1" fill="#e41a1c"/>
<circle cx="1068.4" cy="755.4" r="7.1" fill="#e41a1c"/>
<circle cx="1075.2" cy="740.1" r="7.1" fill="#e41a1c"/>
<circle cx="1118.2" cy="610.3" r="5.0" fill="#fff" fill-opacity="0.28" stroke="#e41a1c" stroke-width="2.7" stroke-opacity="0.37"/>
<circle cx="1125.0" cy="571.8" r="5.0" fill="#fff" fill-opacity="0.28" stroke="#e41a1c" stroke-width="2.7" stroke-opacity="0.37"/>
<circle cx="1131.9" cy="597.3" r="5.0" fill="#fff" fill-opacity="0.28" stroke="#e41a1c" stroke-width="2.7" stroke-opacity="0.37"/>
<circle cx="1138.7" cy="558.5" r="5.0" fill="#fff" fill-opacity="0.28" stroke="#e41a1c" stroke-width="2.7" stroke-opacity="0.37"/>
<circle cx="1145.6" cy="652.3" r="5.0" fill="#fff" fill-opacity="0.28" stroke="#e41a1c" stroke-width="2.7" stroke-opacity="0.37"/>
<circle cx="1152.4" cy="650.4" r="5.0" fill="#fff" fill-opacity="0.28" stroke="#e41a1c" stroke-width="2.7" stroke-opacity="0.37"/>
<g stroke-width="4.3" fill="none">
<line x1="217.7" x2="217.7" y1="1330.3" y2="1432.7" stroke="#377eb8" opacity="0.29"/>
<line x1="224.4" x2="224.4" y1="1226.9" y2="1329.9" stroke="#377eb8"/>
<line x1="231.2" x2="231.2" y1="1392.7" y2="1488.6" stroke="#377eb8"/>
<line x1="237.9" x2="237.9" y1="1322.3" y2="1431.2" stroke="#377eb8" opacity="0.29"/>
<line x1="244.7" x2="244.7" y1="1363.0" y2="1463.3" stroke="#377eb8"/>
<line x1="251.4" x2="251.4" y1="1270.5" y2="1371.9" stroke="#377eb8" opacity="0.29"/>
<line x1="315.5" x2="315.5" y1="1322.1" y2="1417.0" stroke="#377eb8" opacity="0.29"/>
<line x1="322.3" x2="322.3" y1="1223.1" y2="1320.2" stroke="#377eb8"/>
<line x1="329.1" x2="329.1" y1="1179.4" y2="1281.8" stroke="#377eb8"/>
<line x1="335.9" x2="335.9" y1="1250.5" y2="1350.3" stroke="#377eb8" opacity="0.29"/>
<line x1="342.7" x2="342.7" y1="1289.3" y2="1385.2" stroke="#377eb8" opacity="0.29"/>
<line x1="349.5" x2="349.5" y1="1166.2" y2="1258.9" stroke="#377eb8"/>
<line x1="356.3" x2="356.3" y1="1168.8" y2="1256.0" stroke="#377eb8"/>
<line x1="363.1" x2="363.1" y1="1349.8" y2="1447.9" stroke="#377eb8"/>
<line x1="369.9" x2="369.9" y1="1349.1" y2="1453.2" stroke="#377eb8"/>
<line x1="376.7" x2="376.7" y1="1344.2" y2="1451.0" stroke="#377eb8"/>
<line x1="420.5" x2="420.5" y1="1261.8" y2="1370.5" stroke="#377eb8" opacity="0.29"/>
<line x1="427.3" x2="427.3" y1="1370.1" y2="1467.1" stroke="#377eb8"/>
<line x1="434.1" x2="434.1" y1="1360.5" y2="1460.3" stroke="#377eb8"/>
<line x1="440.8" x2="440.8" y1="1257.3" y2="1359.3" stroke="#377eb8" opacity="0.29"/>
<line x1="447.6" x2="447.6" y1="1408.6" y2="1503.4" stroke="#377eb8"/>
<line x1="454.4" x2="454.4" y1="1478.2" y2="1562.2" stroke="#377eb8"/>
<line x1="461.2" x2="461.2" y1="1401.4" y2="1503.4" stroke="#377eb8"/>
<line x1="468.0" x2="468.0" y1="1444.2" y2="1541.3" stroke="#377eb8"/>
<line x1="474.7" x2="474.7" y1="1473.9" y2="1557.9" stroke="#377eb8"/>
<line x1="481.5" x2="481.5" y1="1296.5" y2="1400.7" stroke="#377eb8" opacity="0.29"/>
<line x1="488.3" x2="488.3" y1="1347.4" y2="1442.8" stroke="#377eb8"/>
<line x1="495.1" x2="495.1" y1="1319.5" y2="1416.5" stroke="#377eb8" opacity="0.29"/>
<line x1="501.9" x2="501.9" y1="1411.9" y2="1502.4" stroke="#377eb8"/>
<line x1="545.3" x2="545.3" y1="1394.1" y2="1492.3" stroke="#377eb8"/>
<line x1="552.1" x2="552.1" y1="1356.0" y2="1451.9" stroke="#377eb8"/>
<line x1="558.8" x2="558.8" y1="1309.0" y2="1406.7" stroke="#377eb8" opacity="0.29"/>
<line x1="565.6" x2="565.6" y1="1377.1" y2="1475.2" stroke="#377eb8"/>
<line x1="572.3" x2="572.3" y1="1320.7" y2="1418.8" stroke="#377eb8" opacity="0.29"/>
<line x1="579.1" x2="579.1" y1="1363.3" y2="1464.7" stroke="#377eb8"/>
<line x1="629.6" x2="629.6" y1="1412.7" y2="1518.4" stroke="#377eb8"/>
<line x1="686.8" x2="686.8" y1="1164.3" y2="1246.2" stroke="#377eb8"/>
<line x1="693.6" x2="693.6" y1="1173.7" y2="1277.9" stroke="#377eb8"/>
<line x1="700.3" x2="700.3" y1="1183.7" y2="1276.4" stroke="#377eb8"/>
<line x1="707.1" x2="707.1" y1="1211.5" y2="1305.8" stroke="#377eb8"/>
<line x1="713.9" x2="713.9" y1="1180.5" y2="1279.7" stroke="#377eb8"/>
<line x1="720.6" x2="720.6" y1="1198.5" y2="1293.1" stroke="#377eb8"/>
<line x1="727.4" x2="727.4" y1="1218.3" y2="1321.9" stroke="#377eb8"/>
<line x1="734.2" x2="734.2" y1="1217.3" y2="1323.0" stroke="#377eb8"/>
<line x1="777.7" x2="777.7" y1="1260.1" y2="1369.0" stroke="#377eb8" opacity="0.29"/>
<line x1="784.5" x2="784.5" y1="1369.0" y2="1467.1" stroke="#377eb8"/>
<line x1="791.3" x2="791.3" y1="1288.7" y2="1397.7" stroke="#377eb8" opacity="0.29"/>
<line x1="798.1" x2="798.1" y1="1325.1" y2="1423.2" stroke="#377eb8" opacity="0.29"/>
<line x1="804.9" x2="804.9" y1="1400.6" y2="1486.8" stroke="#377eb8"/>
<line x1="811.7" x2="811.7" y1="1287.3" y2="1380.0" stroke="#377eb8" opacity="0.29"/>
<line x1="818.4" x2="818.4" y1="1295.2" y2="1391.2" stroke="#377eb8" opacity="0.29"/>
<line x1="825.2" x2="825.2" y1="1333.4" y2="1434.3" stroke="#377eb8" opacity="0.29"/>
<line x1="832.0" x2="832.0" y1="1240.2" y2="1335.6" stroke="#377eb8"/>
<line x1="838.8" x2="838.8" y1="1205.3" y2="1306.2" stroke="#377eb8"/>
<line x1="845.6" x2="845.6" y1="1214.8" y2="1320.1" stroke="#377eb8"/>
<line x1="852.4" x2="852.4" y1="1295.8" y2="1397.1" stroke="#377eb8" opacity="0.29"/>
<line x1="859.2" x2="859.2" y1="1253.0" y2="1351.1" stroke="#377eb8" opacity="0.29"/>
<line x1="866.0" x2="866.0" y1="1230.4" y2="1323.1" stroke="#377eb8"/>
<line x1="872.8" x2="872.8" y1="1281.5" y2="1387.2" stroke="#377eb8" opacity="0.29"/>
<line x1="879.6" x2="879.6" y1="1265.5" y2="1369.0" stroke="#377eb8" opacity="0.29"/>
<line x1="886.3" x2="886.3" y1="1306.3" y2="1403.0" stroke="#377eb8" opacity="0.29"/>
<line x1="893.1" x2="893.1" y1="1238.9" y2="1339.2" stroke="#377eb8" opacity="0.29"/>
<line x1="899.9" x2="899.9" y1="1295.2" y2="1393.4" stroke="#377eb8" opacity="0.29"/>
<line x1="906.7" x2="906.7" y1="1272.1" y2="1368.8" stroke="#377eb8" opacity="0.29"/>
<line x1="913.5" x2="913.5" y1="1349.4" y2="1452.9" stroke="#377eb8"/>
<line x1="920.3" x2="920.3" y1="1326.7" y2="1424.8" stroke="#377eb8" opacity="0.29"/>
<line x1="927.1" x2="927.1" y1="1313.5" y2="1410.2" stroke="#377eb8" opacity="0.29"/>
<line x1="970.5" x2="970.5" y1="1219.4" y2="1319.7" stroke="#377eb8"/>
<line x1="977.3" x2="977.3" y1="1309.7" y2="1412.1" stroke="#377eb8" opacity="0.29"/>
<line x1="984.1" x2="984.1" y1="1238.4" y2="1338.6" stroke="#377eb8" opacity="0.29"/>
<line x1="990.8" x2="990.8" y1="1144.1" y2="1231.4" stroke="#377eb8"/>
<line x1="997.6" x2="997.6" y1="1322.4" y2="1419.4" stroke="#377eb8" opacity="0.29"/>
<line x1="1004.4" x2="1004.4" y1="1210.6" y2="1300.0" stroke="#377eb8"/>
<line x1="1011.2" x2="1011.2" y1="1227.2" y2="1324.2" stroke="#377eb8"/>
<line x1="1018.0" x2="1018.0" y1="1229.1" y2="1325.0" stroke="#377eb8"/>
<line x1="1024.7" x2="1024.7" y1="1309.3" y2="1407.4" stroke="#377eb8" opacity="0.29"/>
<line x1="1031.5" x2="1031.5" y1="1217.6" y2="1308.2" stroke="#377eb8"/>
<line x1="1038.3" x2="1038.3" y1="1342.1" y2="1445.7" stroke="#377eb8" opacity="0.29"/>
<line x1="1045.1" x2="1045.1" y1="1357.5" y2="1463.2" stroke="#377eb8"/>
<line x1="1051.9" x2="1051.9" y1="1433.2" y2="1530.2" stroke="#377eb8"/>
<line x1="1058.6" x2="1058.6" y1="1132.7" y2="1219.9" stroke="#377eb8"/>
<line x1="1065.4" x2="1065.4" y1="1196.9" y2="1297.1" stroke="#377eb8"/>
<line x1="1072.2" x2="1072.2" y1="1271.7" y2="1371.4" stroke="#377eb8" opacity="0.29"/>
<line x1="1079.0" x2="1079.0" y1="1299.5" y2="1401.9" stroke="#377eb8" opacity="0.29"/>
<line x1="1142.8" x2="1142.8" y1="1216.3" y2="1311.7" stroke="#377eb8"/>
<line x1="217.7" x2="217.7" y1="1308.3" y2="1397.7" stroke="#e41a1c" opacity="0.29"/>
<line x1="224.4" x2="224.4" y1="1207.1" y2="1303.7" stroke="#e41a1c"/>
<line x1="231.2" x2="231.2" y1="1367.9" y2="1462.8" stroke="#e41a1c"/>
<line x1="237.9" x2="237.9" y1="1334.8" y2="1432.9" stroke="#e41a1c" opacity="0.29"/>
<line x1="244.7" x2="244.7" y1="1297.1" y2="1389.8" stroke="#e41a1c" opacity="0.29"/>
<line x1="251.4" x2="251.4" y1="1262.7" y2="1355.4" stroke="#e41a1c" opacity="0.29"/>
<line x1="315.5" x2="315.5" y1="1330.0" y2="1422.7" stroke="#e41a1c" opacity="0.29"/>
<line x1="322.3" x2="322.3" y1="1274.1" y2="1361.3" stroke="#e41a1c" opacity="0.29"/>
<line x1="329.1" x2="329.1" y1="1173.1" y2="1260.4" stroke="#e41a1c"/>
<line x1="335.9" x2="335.9" y1="1314.6" y2="1405.1" stroke="#e41a1c" opacity="0.29"/>
<line x1="342.7" x2="342.7" y1="1331.6" y2="1429.7" stroke="#e41a1c" opacity="0.29"/>
<line x1="349.5" x2="349.5" y1="1253.5" y2="1347.2" stroke="#e41a1c" opacity="0.29"/>
<line x1="356.3" x2="356.3" y1="1224.2" y2="1316.9" stroke="#e41a1c"/>
<line x1="363.1" x2="363.1" y1="1405.5" y2="1500.4" stroke="#e41a1c"/>
<line x1="369.9" x2="369.9" y1="1373.4" y2="1465.0" stroke="#e41a1c"/>
<line x1="376.7" x2="376.7" y1="1383.6" y2="1481.7" stroke="#e41a1c"/>
<line x1="420.5" x2="420.5" y1="1276.0" y2="1369.8" stroke="#e41a1c" opacity="0.29"/>
<line x1="427.3" x2="427.3" y1="1353.2" y2="1443.7" stroke="#e41a1c"/>
<line x1="434.1" x2="434.1" y1="1339.7" y2="1432.4" stroke="#e41a1c" opacity="0.29"/>
<line x1="440.8" x2="440.8" y1="1240.2" y2="1333.4" stroke="#e41a1c"/>
<line x1="447.6" x2="447.6" y1="1381.0" y2="1470.4" stroke="#e41a1c"/>
<line x1="454.4" x2="454.4" y1="1445.0" y2="1543.2" stroke="#e41a1c"/>
<line x1="461.2" x2="461.2" y1="1361.0" y2="1447.1" stroke="#e41a1c"/>
<line x1="468.0" x2="468.0" y1="1407.1" y2="1493.3" stroke="#e41a1c"/>
<line x1="474.7" x2="474.7" y1="1449.9" y2="1536.1" stroke="#e41a1c"/>
<line x1="481.5" x2="481.5" y1="1266.5" y2="1359.2" stroke="#e41a1c" opacity="0.29"/>
<line x1="488.3" x2="488.3" y1="1284.4" y2="1374.9" stroke="#e41a1c" opacity="0.29"/>
<line x1="495.1" x2="495.1" y1="1321.5" y2="1425.6" stroke="#e41a1c" opacity="0.29"/>
<line x1="501.9" x2="501.9" y1="1361.4" y2="1455.7" stroke="#e41a1c"/>
<line x1="545.3" x2="545.3" y1="1409.4" y2="1500.6" stroke="#e41a1c"/>
<line x1="552.1" x2="552.1" y1="1373.1" y2="1461.0" stroke="#e41a1c"/>
<line x1="558.8" x2="558.8" y1="1387.9" y2="1473.0" stroke="#e41a1c"/>
<line x1="565.6" x2="565.6" y1="1410.3" y2="1496.5" stroke="#e41a1c"/>
<line x1="572.3" x2="572.3" y1="1297.1" y2="1390.9" stroke="#e41a1c" opacity="0.29"/>
<line x1="579.1" x2="579.1" y1="1331.4" y2="1429.5" stroke="#e41a1c" opacity="0.29"/>
<line x1="629.6" x2="629.6" y1="1321.2" y2="1430.2" stroke="#e41a1c" opacity="0.29"/>
<line x1="686.8" x2="686.8" y1="1235.5" y2="1325.0" stroke="#e41a1c"/>
<line x1="693.6" x2="693.6" y1="1237.1" y2="1318.9" stroke="#e41a1c"/>
<line x1="700.3" x2="700.3" y1="1234.3" y2="1331.0" stroke="#e41a1c"/>
<line x1="707.1" x2="707.1" y1="1239.6" y2="1330.1" stroke="#e41a1c"/>
<line x1="713.9" x2="713.9" y1="1249.7" y2="1344.5" stroke="#e41a1c" opacity="0.29"/>
<line x1="720.6" x2="720.6" y1="1227.4" y2="1316.8" stroke="#e41a1c"/>
<line x1="727.4" x2="727.4" y1="1276.5" y2="1376.3" stroke="#e41a1c" opacity="0.29"/>
<line x1="734.2" x2="734.2" y1="1239.6" y2="1337.7" stroke="#e41a1c" opacity="0.29"/>
<line x1="777.7" x2="777.7" y1="1265.4" y2="1363.5" stroke="#e41a1c" opacity="0.29"/>
<line x1="784.5" x2="784.5" y1="1331.1" y2="1423.7" stroke="#e41a1c" opacity="0.29"/>
<line x1="791.3" x2="791.3" y1="1248.6" y2="1346.1" stroke="#e41a1c" opacity="0.29"/>
<line x1="798.1" x2="798.1" y1="1293.6" y2="1386.3" stroke="#e41a1c" opacity="0.29"/>
<line x1="804.9" x2="804.9" y1="1337.0" y2="1432.9" stroke="#e41a1c" opacity="0.29"/>
<line x1="811.7" x2="811.7" y1="1178.3" y2="1268.8" stroke="#e41a1c"/>
<line x1="818.4" x2="818.4" y1="1271.4" y2="1363.0" stroke="#e41a1c" opacity="0.29"/>
<line x1="825.2" x2="825.2" y1="1302.3" y2="1397.1" stroke="#e41a1c" opacity="0.29"/>
<line x1="832.0" x2="832.0" y1="1286.2" y2="1376.7" stroke="#e41a1c" opacity="0.29"/>
<line x1="838.8" x2="838.8" y1="1190.1" y2="1277.3" stroke="#e41a1c"/>
<line x1="845.6" x2="845.6" y1="1159.5" y2="1246.8" stroke="#e41a1c"/>
<line x1="852.4" x2="852.4" y1="1323.5" y2="1418.3" stroke="#e41a1c" opacity="0.29"/>
<line x1="859.2" x2="859.2" y1="1231.3" y2="1327.2" stroke="#e41a1c"/>
<line x1="866.0" x2="866.0" y1="1255.7" y2="1350.5" stroke="#e41a1c" opacity="0.29"/>
<line x1="872.8" x2="872.8" y1="1219.0" y2="1312.3" stroke="#e41a1c"/>
<line x1="879.6" x2="879.6" y1="1270.3" y2="1363.0" stroke="#e41a1c" opacity="0.29"/>
<line x1="886.3" x2="886.3" y1="1245.4" y2="1343.5" stroke="#e41a1c" opacity="0.29"/>
<line x1="893.1" x2="893.1" y1="1246.4" y2="1340.2" stroke="#e41a1c" opacity="0.29"/>
<line x1="899.9" x2="899.9" y1="1248.0" y2="1340.7" stroke="#e41a1c" opacity="0.29"/>
<line x1="906.7" x2="906.7" y1="1250.5" y2="1347.5" stroke="#e41a1c" opacity="0.29"/>
<line x1="913.5" x2="913.5" y1="1281.7" y2="1371.8" stroke="#e41a1c" opacity="0.29"/>
<line x1="920.3" x2="920.3" y1="1267.3" y2="1362.1" stroke="#e41a1c" opacity="0.29"/>
<line x1="927.1" x2="927.1" y1="1279.2" y2="1368.7" stroke="#e41a1c" opacity="0.29"/>
<line x1="970.5" x2="970.5" y1="1265.4" y2="1354.8" stroke="#e41a1c" opacity="0.29"/>
<line x1="977.3" x2="977.3" y1="1311.8" y2="1409.9" stroke="#e41a1c" opacity="0.29"/>
<line x1="984.1" x2="984.1" y1="1252.4" y2="1346.2" stroke="#e41a1c" opacity="0.29"/>
<line x1="990.8" x2="990.8" y1="1158.9" y2="1242.9" stroke="#e41a1c"/>
<line x1="997.6" x2="997.6" y1="1320.8" y2="1411.3" stroke="#e41a1c" opacity="0.29"/>
<line x1="1004.4" x2="1004.4" y1="1224.2" y2="1316.9" stroke="#e41a1c"/>
<line x1="1011.2" x2="1011.2" y1="1207.9" y2="1299.0" stroke="#e41a1c"/>
<line x1="1018.0" x2="1018.0" y1="1250.0" y2="1339.4" stroke="#e41a1c" opacity="0.29"/>
<line x1="1024.7" x2="1024.7" y1="1309.9" y2="1406.9" stroke="#e41a1c" opacity="0.29"/>
<line x1="1031.5" x2="1031.5" y1="1221.5" y2="1316.3" stroke="#e41a1c"/>
<line x1="1038.3" x2="1038.3" y1="1344.9" y2="1443.0" stroke="#e41a1c" opacity="0.29"/>
<line x1="1045.1" x2="1045.1" y1="1379.5" y2="1472.9" stroke="#e41a1c"/>
<line x1="1051.9" x2="1051.9" y1="1436.9" y2="1524.2" stroke="#e41a1c"/>
<line x1="1058.6" x2="1058.6" y1="1142.1" y2="1227.2" stroke="#e41a1c"/>
<line x1="1065.4" x2="1065.4" y1="1191.2" y2="1274.7" stroke="#e41a1c"/>
<line x1="1072.2" x2="1072.2" y1="1265.1" y2="1357.3" stroke="#e41a1c" opacity="0.29"/>
<line x1="1079.0" x2="1079.0" y1="1287.2" y2="1374.5" stroke="#e41a1c" opacity="0.29"/>
<line x1="1142.8" x2="1142.8" y1="1239.9" y2="1328.2" stroke="#e41a1c"/>
</g>
<circle cx="217.7" cy="1381.8" r="5.0" fill="#fff" fill-opacity="0.28" stroke="#377eb8" stroke-width="2.7" stroke-opacity="0.34"/>
<circle cx="224.4" cy="1277.8" r="7.1" fill="#377eb8"/>
<circle cx="231.2" cy="1441.4" r="7.1" fill="#377eb8"/>
<circle cx="237.9" cy="1377.1" r="5.0" fill="#fff" fill-opacity="0.28" stroke="#377eb8" stroke-width="2.7" stroke-opacity="0.34"/>
<circle cx="244.7" cy="1413.7" r="7.1" fill="#377eb8"/>
<circle cx="251.4" cy="1321.0" r="5.0" fill="#fff" fill-opacity="0.28" stroke="#377eb8" stroke-width="2.7" stroke-opacity="0.34"/>
<circle cx="315.5" cy="1369.8" r="5.0" fill="#fff" fill-opacity="0.28" stroke="#377eb8" stroke-width="2.7" stroke-opacity="0.34"/>
<circle cx="322.3" cy="1271.1" r="7.1" fill="#377eb8"/>
<circle cx="329.1" cy="1229.5" r="7.1" fill="#377eb8"/>
<circle cx="335.9" cy="1300.0" r="5.0" fill="#fff" fill-opacity="0.28" stroke="#377eb8" stroke-width="2.7" stroke-opacity="0.34"/>
<circle cx="342.7" cy="1337.2" r="5.0" fill="#fff" fill-opacity="0.28" stroke="#377eb8" stroke-width="2.7" stroke-opacity="0.34"/>
<circle cx="349.5" cy="1211.5" r="7.1" fill="#377eb8"/>
<circle cx="356.3" cy="1211.5" r="7.1" fill="#377eb8"/>
<circle cx="363.1" cy="1399.3" r="7.1" fill="#377eb8"/>
<circle cx="369.9" cy="1401.7" r="7.1" fill="#377eb8"/>
<circle cx="376.7" cy="1398.1" r="7.1" fill="#377eb8"/>
<circle cx="420.5" cy="1315.9" r="5.0" fill="#fff" fill-opacity="0.28" stroke="#377eb8" stroke-width="2.7" stroke-opacity="0.34"/>
<circle cx="427.3" cy="1419.2" r="7.1" fill="#377eb8"/>
<circle cx="434.1" cy="1411.0" r="7.1" fill="#377eb8"/>
<circle cx="440.8" cy="1308.0" r="5.0" fill="#fff" fill-opacity="0.28" stroke="#377eb8" stroke-width="2.7" stroke-opacity="0.34"/>
<circle cx="447.6" cy="1456.9" r="7.1" fill="#377eb8"/>
<circle cx="454.4" cy="1521.4" r="7.1" fill="#377eb8"/>
<circle cx="461.2" cy="1453.4" r="7.1" fill="#377eb8"/>
<circle cx="468.0" cy="1494.0" r="7.1" fill="#377eb8"/>
<circle cx="474.7" cy="1517.0" r="7.1" fill="#377eb8"/>
<circle cx="481.5" cy="1348.7" r="5.0" fill="#fff" fill-opacity="0.28" stroke="#377eb8" stroke-width="2.7" stroke-opacity="0.34"/>
<circle cx="488.3" cy="1395.5" r="7.1" fill="#377eb8"/>
<circle cx="495.1" cy="1368.2" r="5.0" fill="#fff" fill-opacity="0.28" stroke="#377eb8" stroke-width="2.7" stroke-opacity="0.34"/>
<circle cx="501.9" cy="1458.0" r="7.1" fill="#377eb8"/>
<circle cx="545.3" cy="1444.0" r="7.1" fill="#377eb8"/>
<circle cx="552.1" cy="1404.4" r="7.1" fill="#377eb8"/>
<circle cx="558.8" cy="1358.0" r="5.0" fill="#fff" fill-opacity="0.28" stroke="#377eb8" stroke-width="2.7" stroke-opacity="0.34"/>
<circle cx="565.6" cy="1426.8" r="7.1" fill="#377eb8"/>
<circle cx="572.3" cy="1370.0" r="5.0" fill="#fff" fill-opacity="0.28" stroke="#377eb8" stroke-width="2.7" stroke-opacity="0.34"/>
<circle cx="579.1" cy="1414.6" r="7.1" fill="#377eb8"/>
<circle cx="629.6" cy="1466.7" r="7.1" fill="#377eb8"/>
<circle cx="686.8" cy="1204.4" r="7.1" fill="#377eb8"/>
<circle cx="693.6" cy="1224.6" r="7.1" fill="#377eb8"/>
<circle cx="700.3" cy="1229.2" r="7.1" fill="#377eb8"/>
<circle cx="707.1" cy="1258.0" r="7.1" fill="#377eb8"/>
<circle cx="713.9" cy="1229.2" r="7.1" fill="#377eb8"/>
<circle cx="720.6" cy="1245.1" r="7.1" fill="#377eb8"/>
<circle cx="727.4" cy="1269.4" r="7.1" fill="#377eb8"/>
<circle cx="734.2" cy="1269.4" r="7.1" fill="#377eb8"/>
<circle cx="777.7" cy="1314.2" r="5.0" fill="#fff" fill-opacity="0.28" stroke="#377eb8" stroke-width="2.7" stroke-opacity="0.34"/>
<circle cx="784.5" cy="1418.6" r="7.1" fill="#377eb8"/>
<circle cx="791.3" cy="1343.2" r="5.0" fill="#fff" fill-opacity="0.28" stroke="#377eb8" stroke-width="2.7" stroke-opacity="0.34"/>
<circle cx="798.1" cy="1374.4" r="5.0" fill="#fff" fill-opacity="0.28" stroke="#377eb8" stroke-width="2.7" stroke-opacity="0.34"/>
<circle cx="804.9" cy="1444.3" r="7.1" fill="#377eb8"/>
<circle cx="811.7" cy="1333.6" r="5.0" fill="#fff" fill-opacity="0.28" stroke="#377eb8" stroke-width="2.7" stroke-opacity="0.34"/>
<circle cx="818.4" cy="1343.2" r="5.0" fill="#fff" fill-opacity="0.28" stroke="#377eb8" stroke-width="2.7" stroke-opacity="0.34"/>
<circle cx="825.2" cy="1384.2" r="5.0" fill="#fff" fill-opacity="0.28" stroke="#377eb8" stroke-width="2.7" stroke-opacity="0.34"/>
<circle cx="832.0" cy="1287.5" r="7.1" fill="#377eb8"/>
<circle cx="838.8" cy="1254.9" r="7.1" fill="#377eb8"/>
<circle cx="845.6" cy="1266.7" r="7.1" fill="#377eb8"/>
<circle cx="852.4" cy="1346.5" r="5.0" fill="#fff" fill-opacity="0.28" stroke="#377eb8" stroke-width="2.7" stroke-opacity="0.34"/>
<circle cx="859.2" cy="1301.7" r="5.0" fill="#fff" fill-opacity="0.28" stroke="#377eb8" stroke-width="2.7" stroke-opacity="0.34"/>
<circle cx="866.0" cy="1276.3" r="7.1" fill="#377eb8"/>
<circle cx="872.8" cy="1334.3" r="5.0" fill="#fff" fill-opacity="0.28" stroke="#377eb8" stroke-width="2.7" stroke-opacity="0.34"/>
<circle cx="879.6" cy="1317.0" r="5.0" fill="#fff" fill-opacity="0.28" stroke="#377eb8" stroke-width="2.7" stroke-opacity="0.34"/>
<circle cx="886.3" cy="1354.7" r="5.0" fill="#fff" fill-opacity="0.28" stroke="#377eb8" stroke-width="2.7" stroke-opacity="0.34"/>
<circle cx="893.1" cy="1288.6" r="5.0" fill="#fff" fill-opacity="0.28" stroke="#377eb8" stroke-width="2.7" stroke-opacity="0.34"/>
<circle cx="899.9" cy="1344.3" r="5.0" fill="#fff" fill-opacity="0.28" stroke="#377eb8" stroke-width="2.7" stroke-opacity="0.34"/>
<circle cx="906.7" cy="1320.3" r="5.0" fill="#fff" fill-opacity="0.28" stroke="#377eb8" stroke-width="2.7" stroke-opacity="0.34"/>
<circle cx="913.5" cy="1401.7" r="7.1" fill="#377eb8"/>
<circle cx="920.3" cy="1376.0" r="5.0" fill="#fff" fill-opacity="0.28" stroke="#377eb8" stroke-width="2.7" stroke-opacity="0.34"/>
<circle cx="927.1" cy="1362.0" r="5.0" fill="#fff" fill-opacity="0.28" stroke="#377eb8" stroke-width="2.7" stroke-opacity="0.34"/>
<circle cx="970.5" cy="1268.9" r="7.1" fill="#377eb8"/>
<circle cx="977.3" cy="1361.0" r="5.0" fill="#fff" fill-opacity="0.28" stroke="#377eb8" stroke-width="2.7" stroke-opacity="0.34"/>
<circle cx="984.1" cy="1288.0" r="5.0" fill="#fff" fill-opacity="0.28" stroke="#377eb8" stroke-width="2.7" stroke-opacity="0.34"/>
<circle cx="990.8" cy="1186.6" r="7.1" fill="#377eb8"/>
<circle cx="997.6" cy="1371.1" r="5.0" fill="#fff" fill-opacity="0.28" stroke="#377eb8" stroke-width="2.7" stroke-opacity="0.34"/>
<circle cx="1004.4" cy="1254.7" r="7.1" fill="#377eb8"/>
<circle cx="1011.2" cy="1275.1" r="7.1" fill="#377eb8"/>
<circle cx="1018.0" cy="1276.5" r="7.1" fill="#377eb8"/>
<circle cx="1024.7" cy="1358.5" r="5.0" fill="#fff" fill-opacity="0.28" stroke="#377eb8" stroke-width="2.7" stroke-opacity="0.34"/>
<circle cx="1031.5" cy="1262.3" r="7.1" fill="#377eb8"/>
<circle cx="1038.3" cy="1394.4" r="5.0" fill="#fff" fill-opacity="0.28" stroke="#377eb8" stroke-width="2.7" stroke-opacity="0.34"/>
<circle cx="1045.1" cy="1411.0" r="7.1" fill="#377eb8"/>
<circle cx="1051.9" cy="1482.8" r="7.1" fill="#377eb8"/>
<circle cx="1058.6" cy="1175.1" r="7.1" fill="#377eb8"/>
<circle cx="1065.4" cy="1246.1" r="7.1" fill="#377eb8"/>
<circle cx="1072.2" cy="1321.3" r="5.0" fill="#fff" fill-opacity="0.28" stroke="#377eb8" stroke-width="2.7" stroke-opacity="0.34"/>
<circle cx="1079.0" cy="1350.7" r="5.0" fill="#fff" fill-opacity="0.28" stroke="#377eb8" stroke-width="2.7" stroke-opacity="0.34"/>
<circle cx="1142.8" cy="1263.4" r="7.1" fill="#377eb8"/>
<circle cx="217.7" cy="1353.0" r="5.0" fill="#fff" fill-opacity="0.28" stroke="#e41a1c" stroke-width="2.7" stroke-opacity="0.37"/>
<circle cx="224.4" cy="1254.7" r="7.1" fill="#e41a1c"/>
<circle cx="231.2" cy="1415.9" r="7.1" fill="#e41a1c"/>
<circle cx="237.9" cy="1384.2" r="5.0" fill="#fff" fill-opacity="0.28" stroke="#e41a1c" stroke-width="2.7" stroke-opacity="0.37"/>
<circle cx="244.7" cy="1343.5" r="5.0" fill="#fff" fill-opacity="0.28" stroke="#e41a1c" stroke-width="2.7" stroke-opacity="0.37"/>
<circle cx="251.4" cy="1308.8" r="5.0" fill="#fff" fill-opacity="0.28" stroke="#e41a1c" stroke-width="2.7" stroke-opacity="0.37"/>
<circle cx="315.5" cy="1376.5" r="5.0" fill="#fff" fill-opacity="0.28" stroke="#e41a1c" stroke-width="2.7" stroke-opacity="0.37"/>
<circle cx="322.3" cy="1317.5" r="5.0" fill="#fff" fill-opacity="0.28" stroke="#e41a1c" stroke-width="2.7" stroke-opacity="0.37"/>
<circle cx="329.1" cy="1215.9" r="7.1" fill="#e41a1c"/>
<circle cx="335.9" cy="1360.0" r="5.0" fill="#fff" fill-opacity="0.28" stroke="#e41a1c" stroke-width="2.7" stroke-opacity="0.37"/>
<circle cx="342.7" cy="1380.9" r="5.0" fill="#fff" fill-opacity="0.28" stroke="#e41a1c" stroke-width="2.7" stroke-opacity="0.37"/>
<circle cx="349.5" cy="1300.0" r="5.0" fill="#fff" fill-opacity="0.28" stroke="#e41a1c" stroke-width="2.7" stroke-opacity="0.37"/>
<circle cx="356.3" cy="1270.0" r="7.1" fill="#e41a1c"/>
<circle cx="363.1" cy="1453.8" r="7.1" fill="#e41a1c"/>
<circle cx="369.9" cy="1419.7" r="7.1" fill="#e41a1c"/>
<circle cx="376.7" cy="1433.4" r="7.1" fill="#e41a1c"/>
<circle cx="420.5" cy="1322.7" r="5.0" fill="#fff" fill-opacity="0.28" stroke="#e41a1c" stroke-width="2.7" stroke-opacity="0.37"/>
<circle cx="427.3" cy="1398.8" r="7.1" fill="#e41a1c"/>
<circle cx="434.1" cy="1386.4" r="5.0" fill="#fff" fill-opacity="0.28" stroke="#e41a1c" stroke-width="2.7" stroke-opacity="0.37"/>
<circle cx="440.8" cy="1286.4" r="7.1" fill="#e41a1c"/>
<circle cx="447.6" cy="1426.3" r="7.1" fill="#e41a1c"/>
<circle cx="454.4" cy="1495.4" r="7.1" fill="#e41a1c"/>
<circle cx="461.2" cy="1404.4" r="7.1" fill="#e41a1c"/>
<circle cx="468.0" cy="1450.9" r="7.1" fill="#e41a1c"/>
<circle cx="474.7" cy="1494.0" r="7.1" fill="#e41a1c"/>
<circle cx="481.5" cy="1312.6" r="5.0" fill="#fff" fill-opacity="0.28" stroke="#e41a1c" stroke-width="2.7" stroke-opacity="0.37"/>
<circle cx="488.3" cy="1329.5" r="5.0" fill="#fff" fill-opacity="0.28" stroke="#e41a1c" stroke-width="2.7" stroke-opacity="0.37"/>
<circle cx="495.1" cy="1373.8" r="5.0" fill="#fff" fill-opacity="0.28" stroke="#e41a1c" stroke-width="2.7" stroke-opacity="0.37"/>
<circle cx="501.9" cy="1409.1" r="7.1" fill="#e41a1c"/>
<circle cx="545.3" cy="1455.8" r="7.1" fill="#e41a1c"/>
<circle cx="552.1" cy="1417.5" r="7.1" fill="#e41a1c"/>
<circle cx="558.8" cy="1431.0" r="7.1" fill="#e41a1c"/>
<circle cx="565.6" cy="1454.1" r="7.1" fill="#e41a1c"/>
<circle cx="572.3" cy="1344.0" r="5.0" fill="#fff" fill-opacity="0.28" stroke="#e41a1c" stroke-width="2.7" stroke-opacity="0.37"/>
<circle cx="579.1" cy="1380.8" r="5.0" fill="#fff" fill-opacity="0.28" stroke="#e41a1c" stroke-width="2.7" stroke-opacity="0.37"/>
<circle cx="629.6" cy="1376.0" r="5.0" fill="#fff" fill-opacity="0.28" stroke="#e41a1c" stroke-width="2.7" stroke-opacity="0.37"/>
<circle cx="686.8" cy="1279.8" r="7.1" fill="#e41a1c"/>
<circle cx="693.6" cy="1277.6" r="7.1" fill="#e41a1c"/>
<circle cx="700.3" cy="1282.2" r="7.1" fill="#e41a1c"/>
<circle cx="707.1" cy="1284.5" r="7.1" fill="#e41a1c"/>
<circle cx="713.9" cy="1296.8" r="5.0" fill="#fff" fill-opacity="0.28" stroke="#e41a1c" stroke-width="2.7" stroke-opacity="0.37"/>
<circle cx="720.6" cy="1271.6" r="7.1" fill="#e41a1c"/>
<circle cx="727.4" cy="1326.3" r="5.0" fill="#fff" fill-opacity="0.28" stroke="#e41a1c" stroke-width="2.7" stroke-opacity="0.37"/>
<circle cx="734.2" cy="1288.2" r="5.0" fill="#fff" fill-opacity="0.28" stroke="#e41a1c" stroke-width="2.7" stroke-opacity="0.37"/>
<circle cx="777.7" cy="1314.2" r="5.0" fill="#fff" fill-opacity="0.28" stroke="#e41a1c" stroke-width="2.7" stroke-opacity="0.37"/>
<circle cx="784.5" cy="1377.6" r="5.0" fill="#fff" fill-opacity="0.28" stroke="#e41a1c" stroke-width="2.7" stroke-opacity="0.37"/>
<circle cx="791.3" cy="1297.0" r="5.0" fill="#fff" fill-opacity="0.28" stroke="#e41a1c" stroke-width="2.7" stroke-opacity="0.37"/>
<circle cx="798.1" cy="1339.9" r="5.0" fill="#fff" fill-opacity="0.28" stroke="#e41a1c" stroke-width="2.7" stroke-opacity="0.37"/>
<circle cx="804.9" cy="1385.3" r="5.0" fill="#fff" fill-opacity="0.28" stroke="#e41a1c" stroke-width="2.7" stroke-opacity="0.37"/>
<circle cx="811.7" cy="1222.6" r="7.1" fill="#e41a1c"/>
<circle cx="818.4" cy="1317.0" r="5.0" fill="#fff" fill-opacity="0.28" stroke="#e41a1c" stroke-width="2.7" stroke-opacity="0.37"/>
<circle cx="825.2" cy="1349.8" r="5.0" fill="#fff" fill-opacity="0.28" stroke="#e41a1c" stroke-width="2.7" stroke-opacity="0.37"/>
<circle cx="832.0" cy="1331.4" r="5.0" fill="#fff" fill-opacity="0.28" stroke="#e41a1c" stroke-width="2.7" stroke-opacity="0.37"/>
<circle cx="838.8" cy="1233.0" r="7.1" fill="#e41a1c"/>
<circle cx="845.6" cy="1202.2" r="7.1" fill="#e41a1c"/>
<circle cx="852.4" cy="1371.1" r="5.0" fill="#fff" fill-opacity="0.28" stroke="#e41a1c" stroke-width="2.7" stroke-opacity="0.37"/>
<circle cx="859.2" cy="1278.7" r="7.1" fill="#e41a1c"/>
<circle cx="866.0" cy="1302.8" r="5.0" fill="#fff" fill-opacity="0.28" stroke="#e41a1c" stroke-width="2.7" stroke-opacity="0.37"/>
<circle cx="872.8" cy="1265.1" r="7.1" fill="#e41a1c"/>
<circle cx="879.6" cy="1316.4" r="5.0" fill="#fff" fill-opacity="0.28" stroke="#e41a1c" stroke-width="2.7" stroke-opacity="0.37"/>
<circle cx="886.3" cy="1294.0" r="5.0" fill="#fff" fill-opacity="0.28" stroke="#e41a1c" stroke-width="2.7" stroke-opacity="0.37"/>
<circle cx="893.1" cy="1292.9" r="5.0" fill="#fff" fill-opacity="0.28" stroke="#e41a1c" stroke-width="2.7" stroke-opacity="0.37"/>
<circle cx="899.9" cy="1294.0" r="5.0" fill="#fff" fill-opacity="0.28" stroke="#e41a1c" stroke-width="2.7" stroke-opacity="0.37"/>
<circle cx="906.7" cy="1298.6" r="5.0" fill="#fff" fill-opacity="0.28" stroke="#e41a1c" stroke-width="2.7" stroke-opacity="0.37"/>
<circle cx="913.5" cy="1326.6" r="5.0" fill="#fff" fill-opacity="0.28" stroke="#e41a1c" stroke-width="2.7" stroke-opacity="0.37"/>
<circle cx="920.3" cy="1314.5" r="5.0" fill="#fff" fill-opacity="0.28" stroke="#e41a1c" stroke-width="2.7" stroke-opacity="0.37"/>
<circle cx="927.1" cy="1323.8" r="5.0" fill="#fff" fill-opacity="0.28" stroke="#e41a1c" stroke-width="2.7" stroke-opacity="0.37"/>
<circle cx="970.5" cy="1309.9" r="5.0" fill="#fff" fill-opacity="0.28" stroke="#e41a1c" stroke-width="2.7" stroke-opacity="0.37"/>
<circle cx="977.3" cy="1361.0" r="5.0" fill="#fff" fill-opacity="0.28" stroke="#e41a1c" stroke-width="2.7" stroke-opacity="0.37"/>
<circle cx="984.1" cy="1298.9" r="5.0" fill="#fff" fill-opacity="0.28" stroke="#e41a1c" stroke-width="2.7" stroke-opacity="0.37"/>
<circle cx="990.8" cy="1200.0" r="7.1" fill="#e41a1c"/>
<circle cx="997.6" cy="1366.2" r="5.0" fill="#fff" fill-opacity="0.28" stroke="#e41a1c" stroke-width="2.7" stroke-opacity="0.37"/>
<circle cx="1004.4" cy="1270.0" r="7.1" fill="#e41a1c"/>
<circle cx="1011.2" cy="1252.8" r="7.1" fill="#e41a1c"/>
<circle cx="1018.0" cy="1294.3" r="5.0" fill="#fff" fill-opacity="0.28" stroke="#e41a1c" stroke-width="2.7" stroke-opacity="0.37"/>
<circle cx="1024.7" cy="1358.5" r="5.0" fill="#fff" fill-opacity="0.28" stroke="#e41a1c" stroke-width="2.7" stroke-opacity="0.37"/>
<circle cx="1031.5" cy="1268.3" r="7.1" fill="#e41a1c"/>
<circle cx="1038.3" cy="1394.4" r="5.0" fill="#fff" fill-opacity="0.28" stroke="#e41a1c" stroke-width="2.7" stroke-opacity="0.37"/>
<circle cx="1045.1" cy="1426.8" r="7.1" fill="#e41a1c"/>
<circle cx="1051.9" cy="1481.5" r="7.1" fill="#e41a1c"/>
<circle cx="1058.6" cy="1183.6" r="7.1" fill="#e41a1c"/>
<circle cx="1065.4" cy="1232.3" r="7.1" fill="#e41a1c"/>
<circle cx="1072.2" cy="1311.0" r="5.0" fill="#fff" fill-opacity="0.28" stroke="#e41a1c" stroke-width="2.7" stroke-opacity="0.37"/>
<circle cx="1079.0" cy="1330.7" r="5.0" fill="#fff" fill-opacity="0.28" stroke="#e41a1c" stroke-width="2.7" stroke-opacity="0.37"/>
<circle cx="1142.8" cy="1283.6" r="7.1" fill="#e41a1c"/>
<line x1="256" x2="288.7" y1="730.4" y2="730.4" stroke="#e41a1c" stroke-width="5.2"/><circle cx="272.3" cy="730.4" r="7.3" fill="#e41a1c"/>
<line x1="256" x2="288.7" y1="771.2" y2="771.2" stroke="#377eb8" stroke-width="5.2"/><circle cx="272.3" cy="771.2" r="7.3" fill="#377eb8"/>
<text x="292.5" y="743.5" font-size="36px" fill="#111">f</text>
<text x="291" y="784" font-size="36px" fill="#111" textLength="32.5" lengthAdjust="spacingAndGlyphs">m</text>
<g stroke="#6e6e6e" stroke-width="1.4">
<line x1="634.3" y1="338.2" x2="645.5" y2="375.5"/>
<line x1="764.6" y1="308.5" x2="753.9" y2="353.1"/>
<line x1="934" y1="406.5" x2="905.6" y2="503.2"/>
<line x1="921.5" y1="471.3" x2="913" y2="523"/>
<line x1="821.1" y1="780.3" x2="808.2" y2="805.7"/>
<line x1="239.4" y1="1114.2" x2="224.4" y2="1209.8"/>
<line x1="230.9" y1="1489.7" x2="239.9" y2="1542.2"/>
<line x1="368.3" y1="1072" x2="356.4" y2="1167.5"/>
<line x1="363.4" y1="1502.5" x2="366.5" y2="1528.1"/>
<line x1="454.8" y1="1143" x2="440.5" y2="1239.8"/>
<line x1="851.9" y1="1051.4" x2="845.7" y2="1159"/>
<line x1="818.1" y1="1091.9" x2="811.7" y2="1177.4"/>
<line x1="805" y1="1487.2" x2="811.4" y2="1512.7"/>
<line x1="1045" y1="1042.7" x2="1058.7" y2="1131.5"/>
<line x1="1004.8" y1="1053.5" x2="990.8" y2="1141.8"/>
<line x1="1045.1" y1="1475" x2="1039.9" y2="1527.3"/>
<line x1="1051.4" y1="1531.2" x2="1046.3" y2="1557.5"/>
</g>
<text x="570.0" y="330.8" class="an" fill="#377eb8">PC 16:0;0_20:3;0</text>
<text x="702.8" y="301" class="an" fill="#377eb8">PC 18:0;0_20:3;0</text>
<text x="881.3" y="399.4" class="an" fill="#e41a1c">PC O−16:0;0/20:3;0</text>
<text x="928.2" y="474.8" class="an" fill="#e41a1c">PC O−16:0;0/20:4;0</text>
<text x="705.5" y="824.5" class="an" fill="#e41a1c">PC 18:2;0_18:2;0</text>
<text x="201.0" y="1107.8" class="an" fill="#e41a1c">PE O−16:1;0/20:4;0</text>
<text x="201.0" y="1561.1" class="an" fill="#377eb8">PE O−18:1;0/18:2;0</text>
<text x="319.5" y="1065.6" class="an" fill="#377eb8">PI 18:0;0_20:4;0</text>
<text x="319.5" y="1546.5" class="an" fill="#e41a1c">PI 18:1;0_18:1;0</text>
<text x="423.8" y="1137.2" class="an" fill="#e41a1c">LPC 16:1;0</text>
<text x="814.3" y="1044.5" class="an" fill="#e41a1c">SM 36:2;2</text>
<text x="781.0" y="1085" class="an" fill="#e41a1c">SM 34:2;2</text>
<text x="781.0" y="1531.2" class="an" fill="#377eb8">SM 34:1;2</text>
<text x="1003.8" y="1035.6" class="an" fill="#377eb8">CE 20:3;0</text>
<text x="973.7" y="1046.6" class="an" fill="#377eb8">CE 16:1;0</text>
<text x="1003.8" y="1546" class="an" fill="#e41a1c">CE 20:1;0</text>
<text x="1003.8" y="1576.7" class="an" fill="#377eb8">CE 20:2;0</text>
<text x="205.5" y="342.7" class="st">*</text>
<text x="212.6" y="333.7" class="st">*</text>
<text x="239.3" y="307.9" class="st">*</text>
<text x="246.1" y="318.9" class="st">*</text>
<text x="252.7" y="336.9" class="st">*</text>
<text x="266.2" y="333.1" class="st">*</text>
<text x="273.7" y="334.9" class="st">*</text>
<text x="286.5" y="313.0" class="st">*</text>
<text x="293.5" y="343.1" class="st">*</text>
<text x="307.4" y="388.7" class="st">*</text>
<text x="314.0" y="326.7" class="st">*</text>
<text x="320.7" y="366.3" class="st">*</text>
<text x="334.0" y="333.7" class="st">*</text>
<text x="341.1" y="366.7" class="st">*</text>
<text x="348.2" y="401.0" class="st">*</text>
<text x="381.3" y="389.7" class="st">*</text>
<text x="466.5" y="314.3" class="st">*</text>
<text x="479.8" y="330.6" class="st">*</text>
<text x="486.9" y="362.2" class="st">*</text>
<text x="472.6" y="380.5" class="st">*</text>
<text x="598.0" y="491.7" class="st">*</text>
<text x="644.9" y="372.4" class="st">*</text>
<text x="958.6" y="535.2" class="st">*</text>
<text x="994.0" y="619.8" class="st">*</text>
<text x="1132.0" y="438.7" class="st">*</text>
<text x="1138.8" y="407.6" class="st">*</text>
<text x="1146.0" y="480.0" class="st">*</text>
<text x="244.2" y="1294.9" class="st">*</text>
<text x="348.9" y="1161.7" class="st">*</text>
<text x="558.7" y="1305.7" class="st">*</text>
<text x="629.0" y="1317.4" class="st">*</text>
<text x="687.3" y="1161.2" class="st">*</text>
<text x="714.1" y="1174.7" class="st">*</text>
<text x="812.3" y="1173.7" class="st">*</text>
<text x="845.7" y="1155.5" class="st">*</text>
<text x="872.7" y="1216.7" class="st">*</text>
<text x="913.6" y="1277.5" class="st">*</text>
</svg></body></html>
